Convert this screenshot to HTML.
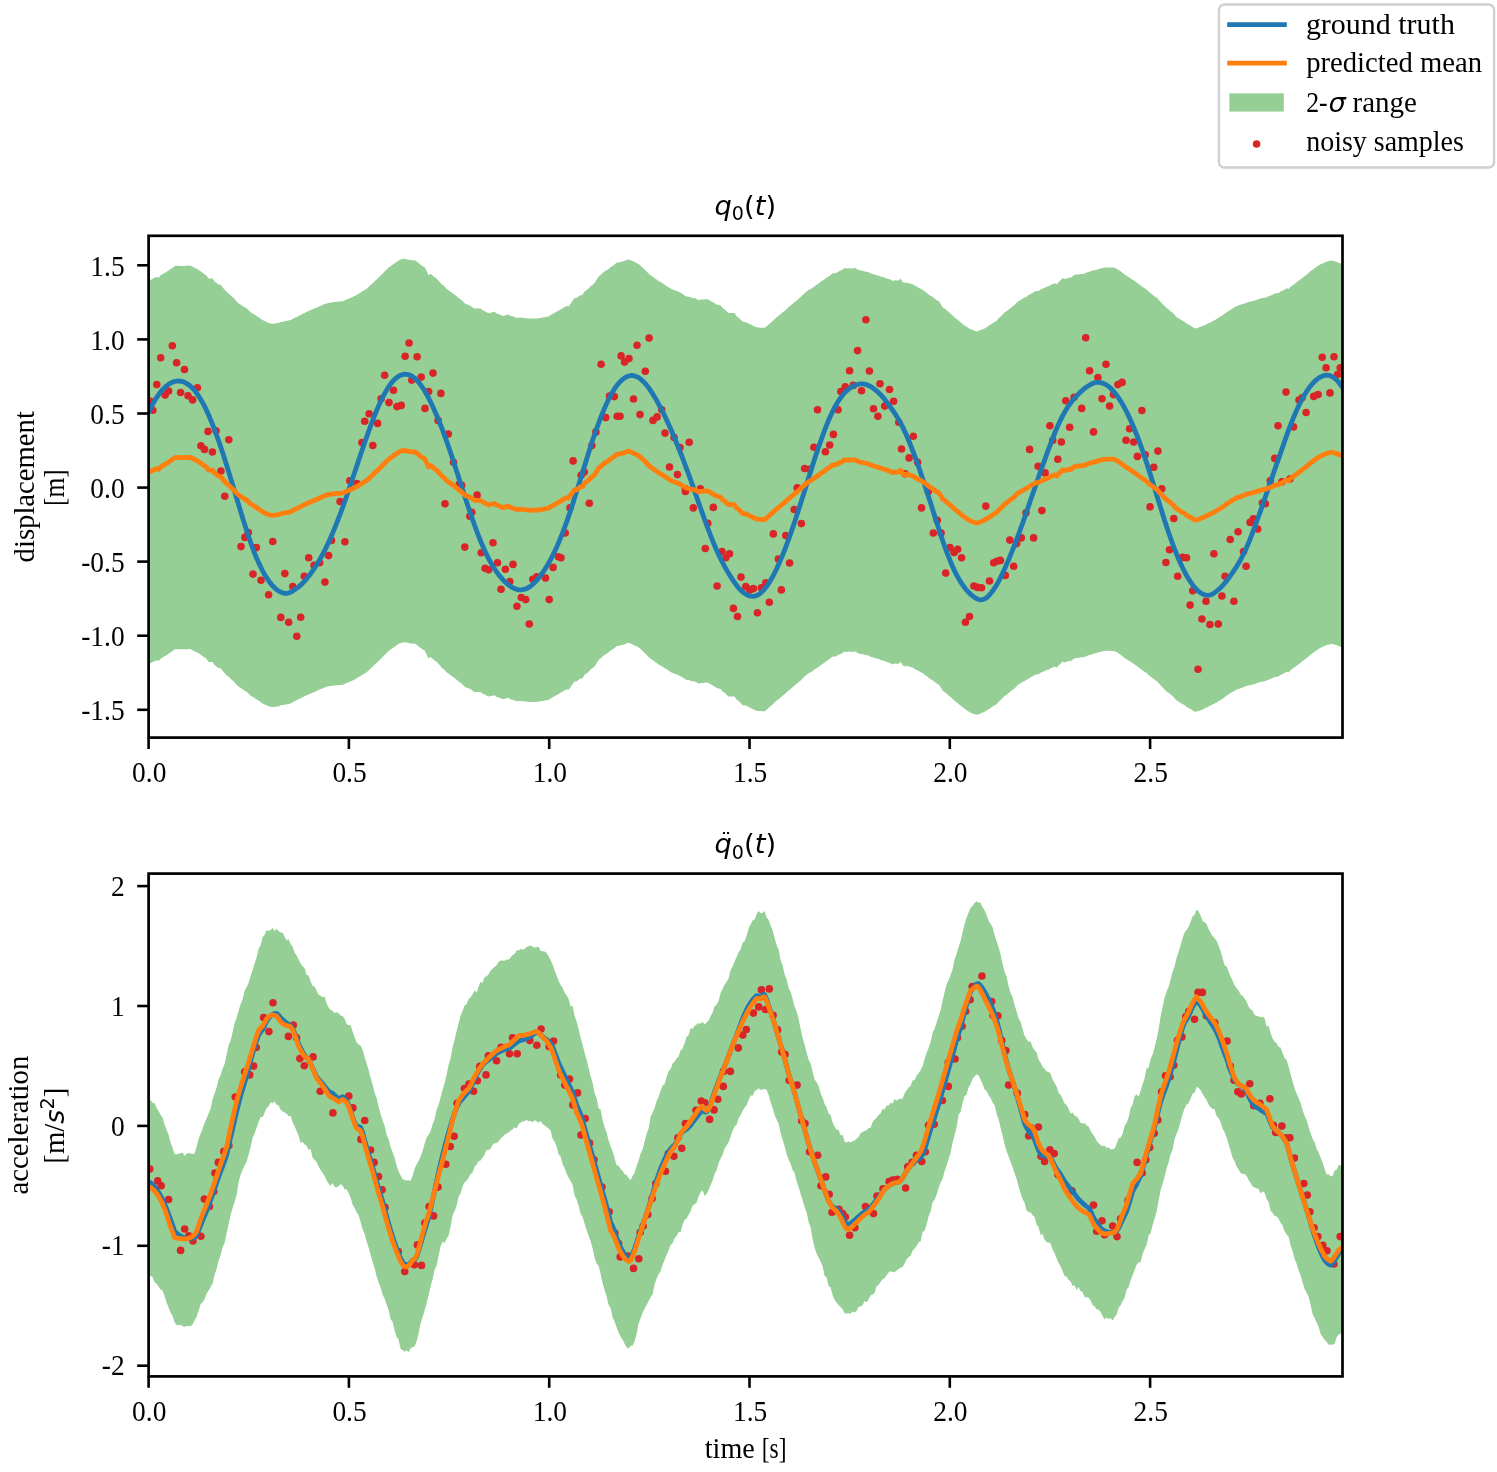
<!DOCTYPE html>
<html lang="en"><head><meta charset="utf-8"><title>q0(t) prediction</title>
<style>html,body{margin:0;padding:0;background:#fff}body{width:1497px;height:1472px;overflow:hidden}svg text{white-space:pre}</style>
</head><body>
<svg width="1497" height="1472" viewBox="0 0 1497 1472" style="display:block">
<rect width="1497" height="1472" fill="#fff"/>
<defs><clipPath id="c1"><rect x="148.6" y="235.8" width="1193.9" height="501.8"/></clipPath><clipPath id="c2"><rect x="148.6" y="873.6" width="1193.9" height="502.80000000000007"/></clipPath></defs>
<g clip-path="url(#c1)">
<path d="M148.6 279.9 L150.6 279.9 L152.6 278.7 L154.6 277.8 L156.6 276.9 L158.6 277.7 L160.6 275.3 L162.6 274.0 L164.6 272.9 L166.6 271.8 L168.6 270.4 L170.6 269.1 L172.6 267.7 L174.6 266.2 L176.6 265.7 L178.6 265.8 L180.6 265.9 L182.6 265.9 L184.6 265.9 L186.6 265.8 L188.6 265.6 L190.6 265.8 L192.6 266.8 L194.6 267.8 L196.6 268.8 L198.6 269.9 L200.6 271.2 L202.6 272.8 L204.6 274.2 L206.6 275.7 L208.6 278.5 L210.6 278.5 L212.6 278.5 L214.6 281.5 L216.6 283.0 L218.6 284.5 L220.6 284.8 L222.6 287.3 L224.6 289.7 L226.6 291.8 L228.6 293.4 L230.6 295.3 L232.6 297.2 L234.6 299.1 L236.6 301.4 L238.6 303.4 L240.6 304.4 L242.6 305.9 L244.6 307.3 L246.6 308.3 L248.6 310.3 L250.6 312.3 L252.6 313.4 L254.6 314.6 L256.6 316.0 L258.6 317.2 L260.6 318.7 L262.6 320.1 L264.6 321.1 L266.6 322.0 L268.6 322.9 L270.6 323.5 L272.6 323.7 L274.6 323.5 L276.6 323.2 L278.6 323.0 L280.6 321.9 L282.6 321.7 L284.6 321.3 L286.6 320.8 L288.6 320.6 L290.6 320.1 L292.6 318.9 L294.6 317.8 L296.6 316.9 L298.6 315.9 L300.6 314.9 L302.6 313.8 L304.6 312.9 L306.6 311.9 L308.6 311.0 L310.6 310.2 L312.6 309.3 L314.6 308.5 L316.6 307.7 L318.6 306.7 L320.6 305.7 L322.6 305.0 L324.6 304.1 L326.6 303.4 L328.6 302.9 L330.6 302.5 L332.6 302.3 L334.6 302.0 L336.6 301.8 L338.6 301.6 L340.6 301.6 L342.6 301.3 L344.6 300.6 L346.6 299.6 L348.6 298.8 L350.6 297.8 L352.6 297.0 L354.6 296.1 L356.6 294.9 L358.6 293.7 L360.6 292.6 L362.6 291.3 L364.6 290.1 L366.6 288.8 L368.6 287.1 L370.6 285.1 L372.6 283.3 L374.6 281.3 L376.6 279.4 L378.6 277.6 L380.6 275.5 L382.6 273.5 L384.6 271.6 L386.6 269.6 L388.6 267.6 L390.6 266.2 L392.6 264.8 L394.6 263.3 L396.6 261.9 L398.6 260.4 L400.6 259.5 L402.6 259.0 L404.6 258.8 L406.6 259.2 L408.6 259.7 L410.6 260.0 L412.6 260.3 L414.6 260.2 L416.6 261.4 L418.6 263.0 L420.6 264.7 L422.6 266.2 L424.6 267.1 L426.6 271.1 L428.6 275.2 L430.6 273.7 L432.6 275.4 L434.6 277.2 L436.6 278.4 L438.6 280.7 L440.6 282.9 L442.6 285.0 L444.6 286.6 L446.6 288.9 L448.6 290.3 L450.6 291.8 L452.6 293.3 L454.6 294.5 L456.6 296.3 L458.6 298.0 L460.6 299.4 L462.6 301.1 L464.6 303.3 L466.6 304.3 L468.6 304.9 L470.6 305.9 L472.6 307.4 L474.6 308.6 L476.6 308.6 L478.6 308.6 L480.6 308.6 L482.6 310.3 L484.6 311.0 L486.6 312.2 L488.6 313.2 L490.6 312.7 L492.6 312.3 L494.6 311.8 L496.6 313.5 L498.6 314.0 L500.6 314.9 L502.6 315.9 L504.6 315.4 L506.6 314.9 L508.6 314.4 L510.6 316.0 L512.6 316.3 L514.6 317.0 L516.6 317.9 L518.6 317.7 L520.6 317.5 L522.6 317.8 L524.6 318.0 L526.6 318.2 L528.6 318.5 L530.6 318.6 L532.6 318.5 L534.6 318.5 L536.6 318.4 L538.6 318.3 L540.6 317.9 L542.6 317.6 L544.6 317.2 L546.6 316.8 L548.6 316.4 L550.6 315.0 L552.6 313.9 L554.6 312.8 L556.6 311.7 L558.6 310.6 L560.6 309.4 L562.6 308.2 L564.6 307.0 L566.6 306.0 L568.6 306.4 L570.6 303.5 L572.6 300.7 L574.6 298.1 L576.6 298.1 L578.6 296.4 L580.6 295.2 L582.6 294.8 L584.6 291.4 L586.6 290.0 L588.6 288.4 L590.6 286.2 L592.6 284.7 L594.6 283.0 L596.6 279.8 L598.6 276.5 L600.6 274.9 L602.6 273.1 L604.6 271.3 L606.6 270.3 L608.6 268.9 L610.6 267.1 L612.6 265.9 L614.6 264.5 L616.6 262.6 L618.6 262.5 L620.6 261.9 L622.6 261.4 L624.6 260.8 L626.6 260.1 L628.6 259.4 L630.6 260.2 L632.6 261.1 L634.6 262.0 L636.6 262.9 L638.6 264.0 L640.6 265.7 L642.6 267.5 L644.6 269.4 L646.6 271.5 L648.6 273.6 L650.6 275.4 L652.6 276.6 L654.6 278.2 L656.6 279.6 L658.6 281.1 L660.6 282.1 L662.6 283.3 L664.6 284.7 L666.6 285.9 L668.6 287.2 L670.6 288.6 L672.6 289.6 L674.6 290.3 L676.6 291.1 L678.6 291.8 L680.6 292.8 L682.6 294.0 L684.6 295.4 L686.6 296.5 L688.6 296.7 L690.6 297.3 L692.6 297.9 L694.6 298.0 L696.6 298.9 L698.6 300.3 L700.6 299.6 L702.6 299.5 L704.6 299.3 L706.6 299.2 L708.6 299.6 L710.6 300.9 L712.6 302.1 L714.6 303.2 L716.6 304.5 L718.6 305.0 L720.6 305.5 L722.6 308.0 L724.6 309.3 L726.6 311.3 L728.6 313.0 L730.6 313.0 L732.6 313.0 L734.6 313.0 L736.6 316.3 L738.6 317.7 L740.6 319.7 L742.6 321.8 L744.6 321.9 L746.6 322.4 L748.6 323.6 L750.6 324.6 L752.6 325.5 L754.6 326.6 L756.6 327.3 L758.6 327.5 L760.6 327.7 L762.6 327.8 L764.6 327.8 L766.6 326.3 L768.6 324.5 L770.6 322.7 L772.6 321.0 L774.6 319.2 L776.6 317.2 L778.6 315.8 L780.6 314.1 L782.6 312.3 L784.6 310.9 L786.6 308.9 L788.6 307.1 L790.6 305.5 L792.6 303.8 L794.6 302.1 L796.6 300.4 L798.6 298.8 L800.6 297.0 L802.6 295.0 L804.6 293.2 L806.6 291.4 L808.6 289.9 L810.6 288.9 L812.6 287.8 L814.6 286.2 L816.6 284.8 L818.6 283.5 L820.6 281.8 L822.6 280.5 L824.6 279.2 L826.6 277.5 L828.6 276.4 L830.6 274.9 L832.6 273.2 L834.6 273.3 L836.6 272.7 L838.6 271.4 L840.6 270.6 L842.6 269.6 L844.6 268.0 L846.6 268.5 L848.6 268.2 L850.6 268.4 L852.6 268.5 L854.6 267.8 L856.6 268.9 L858.6 270.1 L860.6 270.5 L862.6 270.8 L864.6 271.4 L866.6 271.8 L868.6 272.2 L870.6 273.3 L872.6 273.9 L874.6 274.6 L876.6 275.2 L878.6 275.6 L880.6 276.5 L882.6 277.0 L884.6 277.6 L886.6 278.5 L888.6 279.0 L890.6 279.8 L892.6 281.1 L894.6 280.2 L896.6 280.4 L898.6 280.4 L900.6 278.5 L902.6 281.9 L904.6 283.1 L906.6 282.4 L908.6 283.2 L910.6 283.5 L912.6 284.2 L914.6 285.5 L916.6 286.6 L918.6 287.7 L920.6 288.8 L922.6 289.7 L924.6 291.3 L926.6 292.7 L928.6 294.4 L930.6 295.9 L932.6 296.8 L934.6 298.4 L936.6 300.2 L938.6 301.1 L940.6 303.7 L942.6 307.3 L944.6 308.6 L946.6 310.2 L948.6 312.1 L950.6 313.7 L952.6 315.5 L954.6 317.4 L956.6 318.9 L958.6 320.6 L960.6 322.3 L962.6 323.9 L964.6 325.4 L966.6 326.8 L968.6 328.2 L970.6 329.3 L972.6 330.1 L974.6 330.8 L976.6 331.4 L978.6 330.8 L980.6 330.1 L982.6 329.2 L984.6 328.4 L986.6 327.2 L988.6 325.8 L990.6 324.6 L992.6 323.2 L994.6 321.9 L996.6 320.9 L998.6 318.3 L1000.6 316.5 L1002.6 314.7 L1004.6 312.3 L1006.6 311.3 L1008.6 309.5 L1010.6 307.9 L1012.6 306.3 L1014.6 305.0 L1016.6 302.8 L1018.6 300.9 L1020.6 299.9 L1022.6 298.6 L1024.6 297.6 L1026.6 296.7 L1028.6 295.1 L1030.6 294.0 L1032.6 292.9 L1034.6 291.5 L1036.6 290.9 L1038.6 290.9 L1040.6 289.4 L1042.6 288.5 L1044.6 287.7 L1046.6 286.7 L1048.6 286.3 L1050.6 284.9 L1052.6 284.1 L1054.6 283.2 L1056.6 284.3 L1058.6 282.2 L1060.6 280.2 L1062.6 278.1 L1064.6 279.0 L1066.6 278.4 L1068.6 277.7 L1070.6 277.8 L1072.6 276.3 L1074.6 274.8 L1076.6 274.5 L1078.6 274.5 L1080.6 273.9 L1082.6 273.9 L1084.6 273.6 L1086.6 272.5 L1088.6 271.9 L1090.6 271.3 L1092.6 270.6 L1094.6 270.2 L1096.6 269.7 L1098.6 268.9 L1100.6 268.4 L1102.6 267.9 L1104.6 267.6 L1106.6 267.4 L1108.6 267.4 L1110.6 267.4 L1112.6 267.5 L1114.6 267.8 L1116.6 268.7 L1118.6 270.0 L1120.6 271.3 L1122.6 272.8 L1124.6 274.5 L1126.6 275.8 L1128.6 277.1 L1130.6 278.4 L1132.6 279.7 L1134.6 281.0 L1136.6 282.4 L1138.6 284.0 L1140.6 285.4 L1142.6 287.0 L1144.6 288.3 L1146.6 289.6 L1148.6 291.6 L1150.6 293.3 L1152.6 294.7 L1154.6 296.4 L1156.6 297.5 L1158.6 299.7 L1160.6 301.9 L1162.6 304.0 L1164.6 306.1 L1166.6 308.1 L1168.6 309.4 L1170.6 311.2 L1172.6 312.7 L1174.6 314.8 L1176.6 317.2 L1178.6 318.2 L1180.6 319.5 L1182.6 320.8 L1184.6 321.7 L1186.6 323.7 L1188.6 324.6 L1190.6 325.7 L1192.6 326.9 L1194.6 328.3 L1196.6 328.2 L1198.6 327.6 L1200.6 326.8 L1202.6 326.1 L1204.6 325.2 L1206.6 324.2 L1208.6 323.2 L1210.6 322.2 L1212.6 321.2 L1214.6 320.2 L1216.6 319.0 L1218.6 317.8 L1220.6 316.6 L1222.6 315.3 L1224.6 313.8 L1226.6 312.2 L1228.6 311.1 L1230.6 309.7 L1232.6 308.4 L1234.6 307.3 L1236.6 306.0 L1238.6 305.6 L1240.6 304.8 L1242.6 304.0 L1244.6 303.4 L1246.6 302.4 L1248.6 302.0 L1250.6 301.6 L1252.6 301.0 L1254.6 300.5 L1256.6 299.9 L1258.6 299.1 L1260.6 298.6 L1262.6 298.0 L1264.6 297.8 L1266.6 297.2 L1268.6 296.3 L1270.6 295.6 L1272.6 294.7 L1274.6 293.5 L1276.6 293.3 L1278.6 293.1 L1280.6 291.5 L1282.6 290.7 L1284.6 289.6 L1286.6 288.3 L1288.6 289.0 L1290.6 286.8 L1292.6 285.2 L1294.6 283.9 L1296.6 282.3 L1298.6 280.8 L1300.6 279.3 L1302.6 277.7 L1304.6 276.2 L1306.6 274.7 L1308.6 273.1 L1310.6 271.1 L1312.6 269.8 L1314.6 268.3 L1316.6 266.8 L1318.6 265.5 L1320.6 264.3 L1322.6 263.4 L1324.6 262.5 L1326.6 261.7 L1328.6 261.1 L1330.6 260.8 L1332.6 260.5 L1334.6 261.3 L1336.6 261.9 L1338.6 262.7 L1342.5 264.0 L1342.5 647.4 L1338.6 646.1 L1336.6 645.3 L1334.6 644.7 L1332.6 643.9 L1330.6 644.2 L1328.6 644.5 L1326.6 645.1 L1324.6 645.9 L1322.6 646.8 L1320.6 647.7 L1318.6 648.9 L1316.6 650.2 L1314.6 651.7 L1312.6 653.2 L1310.6 654.5 L1308.6 656.5 L1306.6 658.1 L1304.6 659.6 L1302.6 661.1 L1300.6 662.7 L1298.6 664.2 L1296.6 665.7 L1294.6 667.3 L1292.6 668.6 L1290.6 670.2 L1288.6 672.4 L1286.6 671.7 L1284.6 673.0 L1282.6 674.1 L1280.6 674.9 L1278.6 676.5 L1276.6 676.7 L1274.6 676.9 L1272.6 678.1 L1270.6 679.0 L1268.6 679.7 L1266.6 680.6 L1264.6 681.2 L1262.6 681.4 L1260.6 682.0 L1258.6 682.5 L1256.6 683.3 L1254.6 683.9 L1252.6 684.4 L1250.6 685.0 L1248.6 685.4 L1246.6 685.8 L1244.6 686.8 L1242.6 687.4 L1240.6 688.2 L1238.6 689.0 L1236.6 689.4 L1234.6 690.7 L1232.6 691.8 L1230.6 693.1 L1228.6 694.5 L1226.6 695.6 L1224.6 697.2 L1222.6 698.7 L1220.6 700.0 L1218.6 701.2 L1216.6 702.4 L1214.6 703.6 L1212.6 704.6 L1210.6 705.6 L1208.6 706.6 L1206.6 707.6 L1204.6 708.6 L1202.6 709.5 L1200.6 710.2 L1198.6 711.0 L1196.6 711.6 L1194.6 711.7 L1192.6 710.3 L1190.6 709.1 L1188.6 708.0 L1186.6 707.1 L1184.6 705.1 L1182.6 704.2 L1180.6 702.9 L1178.6 701.6 L1176.6 700.6 L1174.6 698.2 L1172.6 696.1 L1170.6 694.6 L1168.6 692.8 L1166.6 691.5 L1164.6 689.5 L1162.6 687.4 L1160.6 685.3 L1158.6 683.1 L1156.6 680.9 L1154.6 679.8 L1152.6 678.1 L1150.6 676.7 L1148.6 675.0 L1146.6 673.0 L1144.6 671.7 L1142.6 670.4 L1140.6 668.8 L1138.6 667.4 L1136.6 665.8 L1134.6 664.4 L1132.6 663.1 L1130.6 661.8 L1128.6 660.5 L1126.6 659.2 L1124.6 657.9 L1122.6 656.2 L1120.6 654.7 L1118.6 653.4 L1116.6 652.1 L1114.6 651.2 L1112.6 650.9 L1110.6 650.8 L1108.6 650.8 L1106.6 650.8 L1104.6 651.0 L1102.6 651.3 L1100.6 651.8 L1098.6 652.3 L1096.6 653.1 L1094.6 653.6 L1092.6 654.0 L1090.6 654.7 L1088.6 655.3 L1086.6 655.9 L1084.6 657.0 L1082.6 657.3 L1080.6 657.3 L1078.6 657.9 L1076.6 657.9 L1074.6 658.2 L1072.6 659.7 L1070.6 661.2 L1068.6 661.1 L1066.6 661.8 L1064.6 662.4 L1062.6 661.5 L1060.6 663.6 L1058.6 665.6 L1056.6 667.7 L1054.6 666.6 L1052.6 667.5 L1050.6 668.3 L1048.6 669.7 L1046.6 670.1 L1044.6 671.1 L1042.6 671.9 L1040.6 672.8 L1038.6 674.3 L1036.6 674.3 L1034.6 674.9 L1032.6 676.3 L1030.6 677.4 L1028.6 678.5 L1026.6 680.1 L1024.6 681.0 L1022.6 682.0 L1020.6 683.3 L1018.6 684.3 L1016.6 686.2 L1014.6 688.4 L1012.6 689.7 L1010.6 691.3 L1008.6 692.9 L1006.6 694.7 L1004.6 695.7 L1002.6 698.1 L1000.6 699.9 L998.6 701.7 L996.6 704.3 L994.6 705.3 L992.6 706.6 L990.6 708.0 L988.6 709.2 L986.6 710.6 L984.6 711.8 L982.6 712.6 L980.6 713.5 L978.6 714.2 L976.6 714.8 L974.6 714.2 L972.6 713.5 L970.6 712.7 L968.6 711.6 L966.6 710.2 L964.6 708.8 L962.6 707.3 L960.6 705.7 L958.6 704.0 L956.6 702.3 L954.6 700.8 L952.6 698.9 L950.6 697.1 L948.6 695.5 L946.6 693.6 L944.6 692.0 L942.6 690.7 L940.6 687.1 L938.6 684.5 L936.6 683.6 L934.6 681.8 L932.6 680.2 L930.6 679.3 L928.6 677.8 L926.6 676.1 L924.6 674.7 L922.6 673.1 L920.6 672.2 L918.6 671.1 L916.6 670.0 L914.6 668.9 L912.6 667.6 L910.6 666.9 L908.6 666.6 L906.6 665.8 L904.6 666.5 L902.6 665.3 L900.6 661.9 L898.6 663.8 L896.6 663.8 L894.6 663.6 L892.6 664.5 L890.6 663.2 L888.6 662.4 L886.6 661.9 L884.6 661.0 L882.6 660.4 L880.6 659.9 L878.6 659.0 L876.6 658.6 L874.6 658.0 L872.6 657.3 L870.6 656.7 L868.6 655.6 L866.6 655.2 L864.6 654.8 L862.6 654.2 L860.6 653.9 L858.6 653.5 L856.6 652.3 L854.6 651.2 L852.6 651.9 L850.6 651.8 L848.6 651.6 L846.6 651.9 L844.6 651.4 L842.6 653.0 L840.6 654.0 L838.6 654.8 L836.6 656.1 L834.6 656.7 L832.6 656.6 L830.6 658.3 L828.6 659.8 L826.6 660.9 L824.6 662.6 L822.6 663.9 L820.6 665.2 L818.6 666.9 L816.6 668.2 L814.6 669.6 L812.6 671.2 L810.6 672.3 L808.6 673.3 L806.6 674.8 L804.6 676.6 L802.6 678.4 L800.6 680.4 L798.6 682.2 L796.6 683.8 L794.6 685.5 L792.6 687.2 L790.6 688.9 L788.6 690.5 L786.6 692.3 L784.6 694.3 L782.6 695.7 L780.6 697.5 L778.6 699.2 L776.6 700.6 L774.6 702.6 L772.6 704.4 L770.6 706.1 L768.6 707.9 L766.6 709.7 L764.6 711.2 L762.6 711.2 L760.6 711.1 L758.6 710.9 L756.6 710.7 L754.6 710.0 L752.6 708.9 L750.6 708.0 L748.6 707.0 L746.6 705.8 L744.6 705.3 L742.6 705.2 L740.6 703.1 L738.6 701.1 L736.6 699.7 L734.6 696.4 L732.6 696.4 L730.6 696.4 L728.6 696.4 L726.6 694.7 L724.6 692.7 L722.6 691.4 L720.6 688.9 L718.6 688.4 L716.6 687.9 L714.6 686.6 L712.6 685.5 L710.6 684.3 L708.6 683.0 L706.6 682.6 L704.6 682.7 L702.6 682.9 L700.6 683.0 L698.6 683.7 L696.6 682.3 L694.6 681.4 L692.6 681.3 L690.6 680.7 L688.6 680.1 L686.6 679.9 L684.6 678.8 L682.6 677.4 L680.6 676.2 L678.6 675.2 L676.6 674.5 L674.6 673.7 L672.6 673.0 L670.6 672.0 L668.6 670.6 L666.6 669.3 L664.6 668.1 L662.6 666.7 L660.6 665.5 L658.6 664.5 L656.6 663.0 L654.6 661.6 L652.6 660.0 L650.6 658.8 L648.6 657.0 L646.6 654.9 L644.6 652.8 L642.6 650.9 L640.6 649.1 L638.6 647.4 L636.6 646.3 L634.6 645.4 L632.6 644.5 L630.6 643.6 L628.6 642.8 L626.6 643.5 L624.6 644.2 L622.6 644.8 L620.6 645.3 L618.6 645.9 L616.6 646.0 L614.6 647.9 L612.6 649.3 L610.6 650.5 L608.6 652.3 L606.6 653.7 L604.6 654.7 L602.6 656.5 L600.6 658.3 L598.6 659.9 L596.6 663.2 L594.6 666.4 L592.6 668.1 L590.6 669.6 L588.6 671.8 L586.6 673.4 L584.6 674.8 L582.6 678.2 L580.6 678.6 L578.6 679.8 L576.6 681.5 L574.6 681.5 L572.6 684.1 L570.6 686.9 L568.6 689.8 L566.6 689.4 L564.6 690.4 L562.6 691.6 L560.6 692.8 L558.6 694.0 L556.6 695.1 L554.6 696.2 L552.6 697.3 L550.6 698.4 L548.6 699.8 L546.6 700.2 L544.6 700.6 L542.6 701.0 L540.6 701.3 L538.6 701.7 L536.6 701.8 L534.6 701.9 L532.6 701.9 L530.6 702.0 L528.6 701.9 L526.6 701.6 L524.6 701.4 L522.6 701.2 L520.6 700.9 L518.6 701.1 L516.6 701.3 L514.6 700.4 L512.6 699.7 L510.6 699.4 L508.6 697.8 L506.6 698.3 L504.6 698.8 L502.6 699.3 L500.6 698.3 L498.6 697.4 L496.6 696.9 L494.6 695.2 L492.6 695.7 L490.6 696.1 L488.6 696.6 L486.6 695.6 L484.6 694.4 L482.6 693.7 L480.6 692.0 L478.6 692.0 L476.6 692.0 L474.6 692.0 L472.6 690.8 L470.6 689.3 L468.6 688.3 L466.6 687.7 L464.6 686.7 L462.6 684.5 L460.6 682.8 L458.6 681.4 L456.6 679.7 L454.6 677.9 L452.6 676.7 L450.6 675.2 L448.6 673.7 L446.6 672.3 L444.6 670.0 L442.6 668.4 L440.6 666.3 L438.6 664.1 L436.6 661.8 L434.6 660.6 L432.6 658.8 L430.6 657.1 L428.6 658.6 L426.6 654.5 L424.6 650.5 L422.6 649.6 L420.6 648.1 L418.6 646.4 L416.6 644.8 L414.6 643.6 L412.6 643.7 L410.6 643.4 L408.6 643.1 L406.6 642.6 L404.6 642.2 L402.6 642.4 L400.6 642.9 L398.6 643.8 L396.6 645.3 L394.6 646.7 L392.6 648.2 L390.6 649.6 L388.6 651.0 L386.6 653.0 L384.6 655.0 L382.6 656.9 L380.6 658.9 L378.6 661.0 L376.6 662.8 L374.6 664.7 L372.6 666.7 L370.6 668.5 L368.6 670.5 L366.6 672.2 L364.6 673.5 L362.6 674.7 L360.6 676.0 L358.6 677.1 L356.6 678.3 L354.6 679.5 L352.6 680.4 L350.6 681.2 L348.6 682.2 L346.6 683.0 L344.6 684.0 L342.6 684.7 L340.6 685.0 L338.6 685.0 L336.6 685.2 L334.6 685.4 L332.6 685.7 L330.6 685.9 L328.6 686.3 L326.6 686.8 L324.6 687.5 L322.6 688.4 L320.6 689.1 L318.6 690.1 L316.6 691.1 L314.6 691.9 L312.6 692.7 L310.6 693.6 L308.6 694.4 L306.6 695.3 L304.6 696.3 L302.6 697.2 L300.6 698.3 L298.6 699.3 L296.6 700.3 L294.6 701.2 L292.6 702.3 L290.6 703.5 L288.6 704.0 L286.6 704.2 L284.6 704.7 L282.6 705.1 L280.6 705.3 L278.6 706.4 L276.6 706.6 L274.6 706.9 L272.6 707.1 L270.6 706.9 L268.6 706.3 L266.6 705.4 L264.6 704.5 L262.6 703.5 L260.6 702.1 L258.6 700.6 L256.6 699.4 L254.6 698.0 L252.6 696.8 L250.6 695.7 L248.6 693.7 L246.6 691.7 L244.6 690.7 L242.6 689.3 L240.6 687.8 L238.6 686.8 L236.6 684.8 L234.6 682.5 L232.6 680.6 L230.6 678.7 L228.6 676.8 L226.6 675.2 L224.6 673.1 L222.6 670.7 L220.6 668.2 L218.6 667.9 L216.6 666.4 L214.6 664.9 L212.6 661.9 L210.6 661.9 L208.6 661.9 L206.6 659.1 L204.6 657.6 L202.6 656.2 L200.6 654.6 L198.6 653.3 L196.6 652.2 L194.6 651.2 L192.6 650.2 L190.6 649.2 L188.6 649.0 L186.6 649.2 L184.6 649.3 L182.6 649.3 L180.6 649.3 L178.6 649.2 L176.6 649.1 L174.6 649.6 L172.6 651.1 L170.6 652.5 L168.6 653.8 L166.6 655.2 L164.6 656.3 L162.6 657.4 L160.6 658.7 L158.6 661.1 L156.6 660.3 L154.6 661.2 L152.6 662.1 L150.6 663.3 L148.6 663.3 Z" fill="#95cf95"/>
<g fill="#d92528"><circle cx="172.3" cy="345.7" r="3.8"/><circle cx="160.7" cy="357.7" r="3.8"/><circle cx="176.6" cy="362.8" r="3.8"/><circle cx="184.5" cy="369.5" r="3.8"/><circle cx="156.8" cy="384.6" r="3.8"/><circle cx="168.6" cy="391.1" r="3.8"/><circle cx="165.1" cy="395.1" r="3.8"/><circle cx="180.6" cy="392.5" r="3.8"/><circle cx="188.0" cy="395.7" r="3.8"/><circle cx="192.6" cy="399.9" r="3.8"/><circle cx="197.4" cy="387.7" r="3.8"/><circle cx="150.5" cy="401.3" r="3.8"/><circle cx="152.8" cy="410.2" r="3.8"/><circle cx="208.0" cy="431.4" r="3.8"/><circle cx="216.1" cy="430.8" r="3.8"/><circle cx="228.8" cy="439.8" r="3.8"/><circle cx="200.9" cy="445.8" r="3.8"/><circle cx="204.5" cy="449.4" r="3.8"/><circle cx="212.4" cy="452.0" r="3.8"/><circle cx="220.9" cy="471.1" r="3.8"/><circle cx="384.6" cy="375.2" r="3.8"/><circle cx="393.5" cy="390.2" r="3.8"/><circle cx="381.1" cy="398.7" r="3.8"/><circle cx="389.0" cy="402.6" r="3.8"/><circle cx="397.0" cy="406.6" r="3.8"/><circle cx="369.1" cy="413.7" r="3.8"/><circle cx="364.7" cy="421.3" r="3.8"/><circle cx="377.6" cy="423.4" r="3.8"/><circle cx="361.9" cy="442.5" r="3.8"/><circle cx="372.8" cy="445.5" r="3.8"/><circle cx="349.8" cy="480.8" r="3.8"/><circle cx="356.8" cy="483.5" r="3.8"/><circle cx="224.8" cy="496.2" r="3.8"/><circle cx="340.1" cy="501.5" r="3.8"/><circle cx="248.3" cy="532.6" r="3.8"/><circle cx="244.9" cy="537.4" r="3.8"/><circle cx="241.0" cy="546.6" r="3.8"/><circle cx="256.4" cy="547.6" r="3.8"/><circle cx="272.8" cy="541.5" r="3.8"/><circle cx="331.5" cy="540.4" r="3.8"/><circle cx="344.9" cy="541.8" r="3.8"/><circle cx="328.6" cy="555.6" r="3.8"/><circle cx="308.7" cy="557.7" r="3.8"/><circle cx="319.6" cy="562.7" r="3.8"/><circle cx="314.0" cy="565.3" r="3.8"/><circle cx="253.0" cy="574.1" r="3.8"/><circle cx="284.8" cy="573.6" r="3.8"/><circle cx="304.3" cy="576.3" r="3.8"/><circle cx="261.0" cy="580.3" r="3.8"/><circle cx="324.9" cy="582.1" r="3.8"/><circle cx="292.8" cy="586.5" r="3.8"/><circle cx="268.6" cy="594.8" r="3.8"/><circle cx="280.8" cy="617.4" r="3.8"/><circle cx="288.7" cy="622.2" r="3.8"/><circle cx="300.7" cy="617.2" r="3.8"/><circle cx="296.8" cy="636.3" r="3.8"/><circle cx="409.1" cy="343.0" r="3.8"/><circle cx="405.1" cy="356.3" r="3.8"/><circle cx="417.1" cy="356.8" r="3.8"/><circle cx="433.0" cy="373.1" r="3.8"/><circle cx="421.2" cy="377.1" r="3.8"/><circle cx="411.8" cy="380.1" r="3.8"/><circle cx="428.6" cy="391.6" r="3.8"/><circle cx="440.9" cy="393.4" r="3.8"/><circle cx="401.2" cy="405.4" r="3.8"/><circle cx="425.0" cy="408.4" r="3.8"/><circle cx="438.1" cy="420.4" r="3.8"/><circle cx="448.3" cy="434.0" r="3.8"/><circle cx="453.5" cy="462.3" r="3.8"/><circle cx="459.2" cy="484.3" r="3.8"/><circle cx="461.7" cy="485.2" r="3.8"/><circle cx="637.0" cy="345.2" r="3.8"/><circle cx="621.1" cy="355.9" r="3.8"/><circle cx="629.0" cy="358.6" r="3.8"/><circle cx="624.6" cy="362.1" r="3.8"/><circle cx="601.1" cy="364.2" r="3.8"/><circle cx="609.5" cy="396.0" r="3.8"/><circle cx="614.3" cy="396.6" r="3.8"/><circle cx="633.5" cy="399.0" r="3.8"/><circle cx="640.0" cy="414.6" r="3.8"/><circle cx="617.2" cy="416.3" r="3.8"/><circle cx="605.7" cy="417.6" r="3.8"/><circle cx="595.9" cy="431.9" r="3.8"/><circle cx="591.9" cy="445.5" r="3.8"/><circle cx="573.1" cy="460.9" r="3.8"/><circle cx="581.1" cy="475.2" r="3.8"/><circle cx="584.3" cy="472.0" r="3.8"/><circle cx="445.0" cy="503.8" r="3.8"/><circle cx="477.1" cy="495.0" r="3.8"/><circle cx="471.8" cy="512.3" r="3.8"/><circle cx="469.8" cy="516.2" r="3.8"/><circle cx="589.3" cy="503.3" r="3.8"/><circle cx="570.0" cy="507.7" r="3.8"/><circle cx="565.2" cy="533.0" r="3.8"/><circle cx="493.0" cy="542.7" r="3.8"/><circle cx="464.8" cy="547.1" r="3.8"/><circle cx="481.2" cy="552.8" r="3.8"/><circle cx="561.0" cy="557.7" r="3.8"/><circle cx="558.4" cy="556.8" r="3.8"/><circle cx="497.5" cy="562.7" r="3.8"/><circle cx="513.0" cy="564.4" r="3.8"/><circle cx="505.4" cy="569.2" r="3.8"/><circle cx="485.1" cy="568.3" r="3.8"/><circle cx="488.6" cy="569.7" r="3.8"/><circle cx="553.1" cy="567.4" r="3.8"/><circle cx="536.8" cy="576.8" r="3.8"/><circle cx="532.8" cy="579.3" r="3.8"/><circle cx="545.5" cy="578.0" r="3.8"/><circle cx="509.8" cy="581.6" r="3.8"/><circle cx="501.0" cy="589.2" r="3.8"/><circle cx="521.3" cy="597.5" r="3.8"/><circle cx="525.7" cy="599.6" r="3.8"/><circle cx="549.2" cy="599.6" r="3.8"/><circle cx="516.9" cy="606.3" r="3.8"/><circle cx="529.3" cy="624.0" r="3.8"/><circle cx="649.1" cy="338.1" r="3.8"/><circle cx="645.3" cy="371.3" r="3.8"/><circle cx="661.7" cy="409.8" r="3.8"/><circle cx="657.1" cy="416.9" r="3.8"/><circle cx="653.0" cy="420.4" r="3.8"/><circle cx="620.0" cy="416.3" r="3.8"/><circle cx="665.0" cy="433.1" r="3.8"/><circle cx="674.1" cy="437.5" r="3.8"/><circle cx="689.2" cy="442.3" r="3.8"/><circle cx="680.0" cy="447.6" r="3.8"/><circle cx="669.5" cy="467.0" r="3.8"/><circle cx="677.4" cy="474.6" r="3.8"/><circle cx="685.4" cy="488.8" r="3.8"/><circle cx="700.4" cy="488.8" r="3.8"/><circle cx="865.9" cy="319.7" r="3.8"/><circle cx="857.6" cy="350.6" r="3.8"/><circle cx="849.6" cy="370.8" r="3.8"/><circle cx="869.4" cy="371.0" r="3.8"/><circle cx="845.2" cy="386.8" r="3.8"/><circle cx="840.8" cy="391.6" r="3.8"/><circle cx="853.2" cy="385.4" r="3.8"/><circle cx="861.5" cy="390.7" r="3.8"/><circle cx="880.0" cy="383.7" r="3.8"/><circle cx="817.5" cy="409.8" r="3.8"/><circle cx="838.0" cy="409.8" r="3.8"/><circle cx="873.5" cy="408.8" r="3.8"/><circle cx="877.9" cy="416.3" r="3.8"/><circle cx="833.4" cy="434.4" r="3.8"/><circle cx="829.7" cy="445.0" r="3.8"/><circle cx="813.9" cy="447.3" r="3.8"/><circle cx="825.4" cy="451.7" r="3.8"/><circle cx="804.6" cy="468.5" r="3.8"/><circle cx="809.6" cy="469.3" r="3.8"/><circle cx="797.2" cy="487.9" r="3.8"/><circle cx="685.4" cy="491.5" r="3.8"/><circle cx="693.3" cy="507.9" r="3.8"/><circle cx="713.3" cy="507.4" r="3.8"/><circle cx="794.2" cy="509.5" r="3.8"/><circle cx="707.8" cy="523.3" r="3.8"/><circle cx="801.4" cy="523.6" r="3.8"/><circle cx="773.3" cy="533.9" r="3.8"/><circle cx="785.8" cy="535.6" r="3.8"/><circle cx="705.3" cy="548.5" r="3.8"/><circle cx="722.0" cy="551.5" r="3.8"/><circle cx="729.5" cy="553.7" r="3.8"/><circle cx="725.8" cy="557.7" r="3.8"/><circle cx="778.4" cy="559.1" r="3.8"/><circle cx="789.6" cy="563.0" r="3.8"/><circle cx="741.0" cy="577.1" r="3.8"/><circle cx="765.8" cy="582.8" r="3.8"/><circle cx="717.1" cy="586.0" r="3.8"/><circle cx="745.8" cy="586.5" r="3.8"/><circle cx="753.4" cy="588.6" r="3.8"/><circle cx="761.3" cy="587.7" r="3.8"/><circle cx="749.8" cy="589.9" r="3.8"/><circle cx="781.3" cy="589.9" r="3.8"/><circle cx="769.3" cy="602.2" r="3.8"/><circle cx="733.4" cy="608.4" r="3.8"/><circle cx="757.4" cy="612.8" r="3.8"/><circle cx="737.5" cy="616.5" r="3.8"/><circle cx="889.5" cy="389.5" r="3.8"/><circle cx="893.6" cy="401.3" r="3.8"/><circle cx="884.7" cy="406.1" r="3.8"/><circle cx="898.8" cy="422.2" r="3.8"/><circle cx="913.3" cy="436.3" r="3.8"/><circle cx="901.5" cy="449.0" r="3.8"/><circle cx="909.1" cy="457.9" r="3.8"/><circle cx="917.6" cy="462.3" r="3.8"/><circle cx="905.0" cy="473.8" r="3.8"/><circle cx="1085.7" cy="337.7" r="3.8"/><circle cx="1106.0" cy="364.2" r="3.8"/><circle cx="1089.6" cy="370.8" r="3.8"/><circle cx="1097.9" cy="377.5" r="3.8"/><circle cx="1117.9" cy="384.6" r="3.8"/><circle cx="1113.5" cy="394.6" r="3.8"/><circle cx="1065.8" cy="400.8" r="3.8"/><circle cx="1074.1" cy="397.3" r="3.8"/><circle cx="1102.0" cy="398.7" r="3.8"/><circle cx="1109.6" cy="406.1" r="3.8"/><circle cx="1081.7" cy="408.4" r="3.8"/><circle cx="1049.9" cy="425.7" r="3.8"/><circle cx="1069.7" cy="427.3" r="3.8"/><circle cx="1093.5" cy="431.9" r="3.8"/><circle cx="1052.7" cy="440.2" r="3.8"/><circle cx="1061.4" cy="442.0" r="3.8"/><circle cx="1029.6" cy="449.4" r="3.8"/><circle cx="1057.8" cy="459.3" r="3.8"/><circle cx="1038.1" cy="466.2" r="3.8"/><circle cx="1045.1" cy="472.9" r="3.8"/><circle cx="928.3" cy="491.5" r="3.8"/><circle cx="921.5" cy="507.9" r="3.8"/><circle cx="985.8" cy="506.1" r="3.8"/><circle cx="1026.0" cy="512.7" r="3.8"/><circle cx="1041.9" cy="510.6" r="3.8"/><circle cx="937.3" cy="520.3" r="3.8"/><circle cx="933.3" cy="533.0" r="3.8"/><circle cx="941.1" cy="533.0" r="3.8"/><circle cx="1009.8" cy="540.1" r="3.8"/><circle cx="1021.3" cy="537.9" r="3.8"/><circle cx="1033.6" cy="537.9" r="3.8"/><circle cx="1016.6" cy="543.6" r="3.8"/><circle cx="950.0" cy="547.6" r="3.8"/><circle cx="957.7" cy="549.2" r="3.8"/><circle cx="954.1" cy="552.4" r="3.8"/><circle cx="961.6" cy="557.7" r="3.8"/><circle cx="1000.4" cy="560.4" r="3.8"/><circle cx="996.9" cy="561.2" r="3.8"/><circle cx="993.7" cy="562.7" r="3.8"/><circle cx="1013.7" cy="566.2" r="3.8"/><circle cx="945.7" cy="573.1" r="3.8"/><circle cx="1005.3" cy="575.4" r="3.8"/><circle cx="989.5" cy="581.0" r="3.8"/><circle cx="973.9" cy="586.0" r="3.8"/><circle cx="977.5" cy="587.4" r="3.8"/><circle cx="981.5" cy="587.7" r="3.8"/><circle cx="969.5" cy="616.5" r="3.8"/><circle cx="965.4" cy="622.2" r="3.8"/><circle cx="1122.1" cy="382.4" r="3.8"/><circle cx="1141.9" cy="410.5" r="3.8"/><circle cx="1129.6" cy="428.7" r="3.8"/><circle cx="1126.0" cy="440.2" r="3.8"/><circle cx="1133.7" cy="442.0" r="3.8"/><circle cx="1157.9" cy="451.1" r="3.8"/><circle cx="1145.2" cy="454.7" r="3.8"/><circle cx="1137.4" cy="456.4" r="3.8"/><circle cx="1153.7" cy="467.2" r="3.8"/><circle cx="1161.8" cy="488.8" r="3.8"/><circle cx="1322.2" cy="357.2" r="3.8"/><circle cx="1334.0" cy="356.8" r="3.8"/><circle cx="1326.1" cy="367.8" r="3.8"/><circle cx="1340.2" cy="367.8" r="3.8"/><circle cx="1337.6" cy="374.5" r="3.8"/><circle cx="1286.0" cy="392.1" r="3.8"/><circle cx="1330.0" cy="392.9" r="3.8"/><circle cx="1318.1" cy="394.6" r="3.8"/><circle cx="1313.7" cy="396.4" r="3.8"/><circle cx="1302.1" cy="397.8" r="3.8"/><circle cx="1299.0" cy="400.1" r="3.8"/><circle cx="1306.1" cy="412.5" r="3.8"/><circle cx="1278.0" cy="425.7" r="3.8"/><circle cx="1293.5" cy="426.9" r="3.8"/><circle cx="1274.7" cy="458.4" r="3.8"/><circle cx="1270.3" cy="480.8" r="3.8"/><circle cx="1281.9" cy="481.7" r="3.8"/><circle cx="1289.9" cy="479.0" r="3.8"/><circle cx="1150.0" cy="506.8" r="3.8"/><circle cx="1265.3" cy="503.8" r="3.8"/><circle cx="1262.4" cy="503.0" r="3.8"/><circle cx="1173.8" cy="518.5" r="3.8"/><circle cx="1250.1" cy="522.4" r="3.8"/><circle cx="1253.4" cy="518.9" r="3.8"/><circle cx="1257.7" cy="529.1" r="3.8"/><circle cx="1238.1" cy="531.8" r="3.8"/><circle cx="1230.2" cy="539.5" r="3.8"/><circle cx="1169.5" cy="549.8" r="3.8"/><circle cx="1213.9" cy="553.8" r="3.8"/><circle cx="1243.5" cy="551.5" r="3.8"/><circle cx="1182.5" cy="557.4" r="3.8"/><circle cx="1186.5" cy="557.7" r="3.8"/><circle cx="1165.9" cy="562.5" r="3.8"/><circle cx="1246.1" cy="566.2" r="3.8"/><circle cx="1177.7" cy="576.3" r="3.8"/><circle cx="1225.1" cy="576.3" r="3.8"/><circle cx="1192.7" cy="590.7" r="3.8"/><circle cx="1221.9" cy="596.0" r="3.8"/><circle cx="1206.0" cy="601.3" r="3.8"/><circle cx="1233.9" cy="601.3" r="3.8"/><circle cx="1190.1" cy="605.1" r="3.8"/><circle cx="1201.9" cy="619.0" r="3.8"/><circle cx="1209.9" cy="624.5" r="3.8"/><circle cx="1218.3" cy="624.0" r="3.8"/><circle cx="1198.0" cy="669.3" r="3.8"/></g>
<path d="M148.6 412.1 L150.6 408.1 L152.6 404.3 L154.6 400.8 L156.6 397.6 L158.6 394.6 L160.6 392.0 L162.6 389.6 L164.6 387.6 L166.6 385.8 L168.6 384.3 L170.6 383.1 L172.6 382.1 L174.6 381.5 L176.6 381.1 L178.6 381.0 L180.6 381.2 L182.6 381.6 L184.6 382.3 L186.6 383.4 L188.6 384.7 L190.6 386.3 L192.6 388.2 L194.6 390.5 L196.6 393.1 L198.6 396.0 L200.6 399.2 L202.6 402.6 L204.6 406.4 L206.6 410.5 L208.6 415.0 L210.6 419.7 L212.6 424.7 L214.6 429.9 L216.6 435.3 L218.6 440.8 L220.6 446.6 L222.6 452.6 L224.6 458.7 L226.6 465.1 L228.6 471.5 L230.6 478.1 L232.6 484.7 L234.6 491.3 L236.6 498.0 L238.6 504.6 L240.6 511.2 L242.6 517.7 L244.6 524.1 L246.6 530.3 L248.6 536.4 L250.6 542.3 L252.6 548.0 L254.6 553.3 L256.6 558.1 L258.6 562.6 L260.6 566.8 L262.6 570.8 L264.6 574.4 L266.6 577.7 L268.6 580.7 L270.6 583.4 L272.6 585.8 L274.6 587.8 L276.6 589.6 L278.6 591.0 L280.6 592.1 L282.6 592.8 L284.6 593.3 L286.6 593.3 L288.6 593.0 L290.6 592.3 L292.6 591.1 L294.6 589.8 L296.6 588.4 L298.6 586.9 L300.6 585.2 L302.6 583.2 L304.6 581.1 L306.6 578.8 L308.6 576.3 L310.6 573.7 L312.6 570.9 L314.6 567.9 L316.6 564.8 L318.6 561.6 L320.6 558.1 L322.6 554.5 L324.6 550.6 L326.6 546.6 L328.6 542.3 L330.6 537.8 L332.6 533.2 L334.6 528.3 L336.6 523.4 L338.6 518.2 L340.6 513.0 L342.6 507.5 L344.6 501.9 L346.6 496.2 L348.6 490.4 L350.6 484.5 L352.6 478.4 L354.6 472.4 L356.6 466.4 L358.6 460.4 L360.6 454.4 L362.6 448.6 L364.6 442.8 L366.6 437.2 L368.6 431.5 L370.6 426.0 L372.6 420.6 L374.6 415.4 L376.6 410.5 L378.6 405.9 L380.6 401.5 L382.6 397.4 L384.6 393.6 L386.6 390.1 L388.6 386.9 L390.6 384.0 L392.6 381.5 L394.6 379.4 L396.6 377.7 L398.6 376.3 L400.6 375.2 L402.6 374.6 L404.6 374.2 L406.6 374.3 L408.6 374.6 L410.6 375.4 L412.6 376.6 L414.6 378.1 L416.6 380.0 L418.6 382.3 L420.6 384.8 L422.6 387.6 L424.6 390.8 L426.6 394.3 L428.6 398.0 L430.6 402.0 L432.6 406.2 L434.6 410.7 L436.6 415.2 L438.6 420.0 L440.6 425.0 L442.6 430.2 L444.6 435.6 L446.6 441.1 L448.6 446.8 L450.6 452.6 L452.6 458.7 L454.6 464.8 L456.6 471.0 L458.6 477.2 L460.6 483.4 L462.6 489.6 L464.6 495.8 L466.6 502.0 L468.6 508.0 L470.6 513.9 L472.6 519.6 L474.6 525.2 L476.6 530.7 L478.6 536.0 L480.6 541.0 L482.6 545.8 L484.6 550.3 L486.6 554.6 L488.6 558.6 L490.6 562.3 L492.6 565.8 L494.6 568.9 L496.6 571.9 L498.6 574.6 L500.6 577.0 L502.6 579.4 L504.6 581.5 L506.6 583.3 L508.6 585.0 L510.6 586.4 L512.6 587.6 L514.6 588.6 L516.6 589.3 L518.6 589.8 L520.6 589.9 L522.6 589.7 L524.6 589.2 L526.6 588.5 L528.6 587.5 L530.6 586.1 L532.6 584.5 L534.6 582.6 L536.6 580.5 L538.6 578.1 L540.6 575.5 L542.6 572.7 L544.6 569.8 L546.6 566.6 L548.6 563.2 L550.6 559.6 L552.6 555.7 L554.6 551.6 L556.6 547.2 L558.6 542.6 L560.6 537.8 L562.6 532.8 L564.6 527.5 L566.6 522.1 L568.6 516.3 L570.6 510.4 L572.6 504.2 L574.6 497.8 L576.6 491.5 L578.6 485.1 L580.6 478.6 L582.6 472.2 L584.6 465.7 L586.6 459.3 L588.6 452.8 L590.6 446.5 L592.6 440.3 L594.6 434.4 L596.6 428.7 L598.6 423.2 L600.6 417.9 L602.6 412.9 L604.6 408.1 L606.6 403.6 L608.6 399.3 L610.6 395.4 L612.6 391.9 L614.6 388.7 L616.6 385.8 L618.6 383.3 L620.6 381.2 L622.6 379.4 L624.6 377.9 L626.6 376.7 L628.6 376.0 L630.6 375.5 L632.6 375.5 L634.6 375.9 L636.6 376.7 L638.6 377.7 L640.6 379.2 L642.6 380.9 L644.6 382.9 L646.6 385.1 L648.6 387.7 L650.6 390.6 L652.6 393.7 L654.6 397.0 L656.6 400.4 L658.6 404.1 L660.6 407.9 L662.6 411.7 L664.6 415.7 L666.6 419.9 L668.6 424.2 L670.6 428.7 L672.6 433.3 L674.6 438.1 L676.6 443.0 L678.6 448.0 L680.6 453.0 L682.6 458.2 L684.6 463.5 L686.6 468.8 L688.6 474.3 L690.6 479.8 L692.6 485.4 L694.6 491.1 L696.6 496.8 L698.6 502.6 L700.6 508.3 L702.6 513.9 L704.6 519.5 L706.6 525.0 L708.6 530.4 L710.6 535.6 L712.6 540.7 L714.6 545.5 L716.6 550.1 L718.6 554.5 L720.6 558.7 L722.6 562.6 L724.6 566.4 L726.6 570.0 L728.6 573.4 L730.6 576.6 L732.6 579.7 L734.6 582.6 L736.6 585.4 L738.6 587.9 L740.6 590.0 L742.6 591.9 L744.6 593.5 L746.6 594.7 L748.6 595.6 L750.6 596.2 L752.6 596.4 L754.6 596.2 L756.6 595.6 L758.6 594.5 L760.6 593.1 L762.6 591.2 L764.6 589.1 L766.6 586.5 L768.6 583.6 L770.6 580.3 L772.6 576.8 L774.6 572.9 L776.6 568.8 L778.6 564.4 L780.6 559.9 L782.6 555.1 L784.6 550.1 L786.6 544.8 L788.6 539.4 L790.6 533.7 L792.6 527.9 L794.6 522.0 L796.6 515.9 L798.6 509.7 L800.6 503.5 L802.6 497.1 L804.6 490.7 L806.6 484.3 L808.6 477.9 L810.6 471.6 L812.6 465.3 L814.6 459.0 L816.6 453.0 L818.6 447.1 L820.6 441.4 L822.6 435.9 L824.6 430.4 L826.6 425.2 L828.6 420.3 L830.6 415.7 L832.6 411.5 L834.6 407.5 L836.6 404.0 L838.6 400.7 L840.6 397.8 L842.6 395.2 L844.6 392.8 L846.6 390.8 L848.6 389.1 L850.6 387.7 L852.6 386.5 L854.6 385.5 L856.6 384.8 L858.6 384.2 L860.6 383.9 L862.6 383.9 L864.6 384.2 L866.6 384.7 L868.6 385.5 L870.6 386.5 L872.6 387.8 L874.6 389.3 L876.6 390.9 L878.6 392.8 L880.6 394.8 L882.6 396.9 L884.6 399.3 L886.6 401.9 L888.6 404.5 L890.6 407.3 L892.6 410.2 L894.6 413.1 L896.6 416.3 L898.6 419.6 L900.6 423.1 L902.6 426.9 L904.6 431.1 L906.6 435.5 L908.6 440.2 L910.6 445.1 L912.6 450.3 L914.6 455.6 L916.6 461.2 L918.6 466.8 L920.6 472.6 L922.6 478.6 L924.6 484.6 L926.6 490.8 L928.6 496.9 L930.6 503.1 L932.6 509.4 L934.6 515.7 L936.6 521.9 L938.6 528.2 L940.6 534.5 L942.6 540.5 L944.6 546.2 L946.6 551.7 L948.6 556.9 L950.6 561.8 L952.6 566.5 L954.6 570.9 L956.6 574.9 L958.6 578.5 L960.6 581.9 L962.6 584.9 L964.6 587.7 L966.6 590.2 L968.6 592.3 L970.6 594.3 L972.6 596.0 L974.6 597.4 L976.6 598.6 L978.6 599.5 L980.6 599.8 L982.6 599.6 L984.6 598.9 L986.6 597.7 L988.6 595.8 L990.6 593.6 L992.6 591.0 L994.6 588.1 L996.6 584.9 L998.6 581.3 L1000.6 577.4 L1002.6 573.3 L1004.6 568.9 L1006.6 564.4 L1008.6 559.7 L1010.6 554.9 L1012.6 550.0 L1014.6 544.9 L1016.6 539.7 L1018.6 534.3 L1020.6 528.8 L1022.6 523.3 L1024.6 517.6 L1026.6 511.8 L1028.6 506.0 L1030.6 500.1 L1032.6 494.3 L1034.6 488.4 L1036.6 482.7 L1038.6 477.0 L1040.6 471.4 L1042.6 465.7 L1044.6 460.1 L1046.6 454.5 L1048.6 449.1 L1050.6 443.9 L1052.6 438.6 L1054.6 433.5 L1056.6 428.6 L1058.6 424.1 L1060.6 419.8 L1062.6 415.9 L1064.6 412.3 L1066.6 408.9 L1068.6 405.8 L1070.6 403.0 L1072.6 400.4 L1074.6 398.1 L1076.6 395.9 L1078.6 393.8 L1080.6 391.9 L1082.6 390.1 L1084.6 388.4 L1086.6 387.0 L1088.6 385.7 L1090.6 384.5 L1092.6 383.5 L1094.6 382.7 L1096.6 382.3 L1098.6 382.3 L1100.6 382.6 L1102.6 383.1 L1104.6 384.0 L1106.6 385.1 L1108.6 386.5 L1110.6 388.2 L1112.6 390.2 L1114.6 392.6 L1116.6 395.2 L1118.6 398.0 L1120.6 401.1 L1122.6 404.4 L1124.6 408.0 L1126.6 411.8 L1128.6 415.9 L1130.6 420.1 L1132.6 424.7 L1134.6 429.5 L1136.6 434.5 L1138.6 439.7 L1140.6 445.2 L1142.6 450.8 L1144.6 456.7 L1146.6 462.7 L1148.6 468.9 L1150.6 475.3 L1152.6 481.7 L1154.6 488.2 L1156.6 494.7 L1158.6 501.2 L1160.6 507.6 L1162.6 514.0 L1164.6 520.4 L1166.6 526.5 L1168.6 532.4 L1170.6 538.2 L1172.6 543.7 L1174.6 549.0 L1176.6 554.1 L1178.6 559.0 L1180.6 563.5 L1182.6 567.8 L1184.6 571.8 L1186.6 575.5 L1188.6 578.9 L1190.6 582.0 L1192.6 584.9 L1194.6 587.4 L1196.6 589.5 L1198.6 591.4 L1200.6 592.9 L1202.6 594.0 L1204.6 594.8 L1206.6 595.2 L1208.6 595.3 L1210.6 594.9 L1212.6 594.0 L1214.6 592.7 L1216.6 591.2 L1218.6 589.5 L1220.6 587.7 L1222.6 585.6 L1224.6 583.3 L1226.6 580.9 L1228.6 578.2 L1230.6 575.4 L1232.6 572.6 L1234.6 569.6 L1236.6 566.6 L1238.6 563.3 L1240.6 559.7 L1242.6 555.9 L1244.6 551.8 L1246.6 547.4 L1248.6 542.8 L1250.6 537.8 L1252.6 532.6 L1254.6 527.2 L1256.6 521.7 L1258.6 516.2 L1260.6 510.6 L1262.6 504.9 L1264.6 499.1 L1266.6 493.3 L1268.6 487.5 L1270.6 481.8 L1272.6 476.0 L1274.6 470.1 L1276.6 464.3 L1278.6 458.6 L1280.6 452.9 L1282.6 447.1 L1284.6 441.3 L1286.6 435.6 L1288.6 430.2 L1290.6 424.9 L1292.6 419.9 L1294.6 415.0 L1296.6 410.4 L1298.6 406.0 L1300.6 402.0 L1302.6 398.2 L1304.6 394.6 L1306.6 391.5 L1308.6 388.5 L1310.6 385.9 L1312.6 383.5 L1314.6 381.4 L1316.6 379.6 L1318.6 378.1 L1320.6 376.9 L1322.6 376.0 L1324.6 375.4 L1326.6 375.2 L1328.6 375.3 L1330.6 375.9 L1332.6 376.9 L1334.6 378.3 L1336.6 380.0 L1338.6 382.2 L1342.5 387.5" fill="none" stroke="#1f77b4" stroke-width="4.8" stroke-linejoin="round" stroke-linecap="square"/>
<path d="M148.6 471.6 L150.6 471.6 L152.6 470.4 L154.6 469.5 L156.6 468.6 L158.6 469.4 L160.6 467.0 L162.6 465.7 L164.6 464.6 L166.6 463.5 L168.6 462.1 L170.6 460.8 L172.6 459.4 L174.6 457.9 L176.6 457.4 L178.6 457.5 L180.6 457.6 L182.6 457.6 L184.6 457.6 L186.6 457.5 L188.6 457.3 L190.6 457.5 L192.6 458.5 L194.6 459.5 L196.6 460.5 L198.6 461.6 L200.6 462.9 L202.6 464.5 L204.6 465.9 L206.6 467.4 L208.6 470.2 L210.6 470.2 L212.6 470.2 L214.6 473.2 L216.6 474.7 L218.6 476.2 L220.6 476.5 L222.6 479.0 L224.6 481.4 L226.6 483.5 L228.6 485.1 L230.6 487.0 L232.6 488.9 L234.6 490.8 L236.6 493.1 L238.6 495.1 L240.6 496.1 L242.6 497.6 L244.6 499.0 L246.6 500.0 L248.6 502.0 L250.6 504.0 L252.6 505.1 L254.6 506.3 L256.6 507.7 L258.6 508.9 L260.6 510.4 L262.6 511.8 L264.6 512.8 L266.6 513.7 L268.6 514.6 L270.6 515.2 L272.6 515.4 L274.6 515.2 L276.6 514.9 L278.6 514.7 L280.6 513.6 L282.6 513.4 L284.6 513.0 L286.6 512.5 L288.6 512.3 L290.6 511.8 L292.6 510.6 L294.6 509.5 L296.6 508.6 L298.6 507.6 L300.6 506.6 L302.6 505.5 L304.6 504.6 L306.6 503.6 L308.6 502.7 L310.6 501.9 L312.6 501.0 L314.6 500.2 L316.6 499.4 L318.6 498.4 L320.6 497.4 L322.6 496.7 L324.6 495.8 L326.6 495.1 L328.6 494.6 L330.6 494.2 L332.6 494.0 L334.6 493.7 L336.6 493.5 L338.6 493.3 L340.6 493.3 L342.6 493.0 L344.6 492.3 L346.6 491.3 L348.6 490.5 L350.6 489.5 L352.6 488.7 L354.6 487.8 L356.6 486.6 L358.6 485.4 L360.6 484.3 L362.6 483.0 L364.6 481.8 L366.6 480.5 L368.6 478.8 L370.6 476.8 L372.6 475.0 L374.6 473.0 L376.6 471.1 L378.6 469.3 L380.6 467.2 L382.6 465.2 L384.6 463.3 L386.6 461.3 L388.6 459.3 L390.6 457.9 L392.6 456.5 L394.6 455.0 L396.6 453.6 L398.6 452.1 L400.6 451.2 L402.6 450.7 L404.6 450.5 L406.6 450.9 L408.6 451.4 L410.6 451.7 L412.6 452.0 L414.6 451.9 L416.6 453.1 L418.6 454.7 L420.6 456.4 L422.6 457.9 L424.6 458.8 L426.6 462.8 L428.6 466.9 L430.6 465.4 L432.6 467.1 L434.6 468.9 L436.6 470.1 L438.6 472.4 L440.6 474.6 L442.6 476.7 L444.6 478.3 L446.6 480.6 L448.6 482.0 L450.6 483.5 L452.6 485.0 L454.6 486.2 L456.6 488.0 L458.6 489.7 L460.6 491.1 L462.6 492.8 L464.6 495.0 L466.6 496.0 L468.6 496.6 L470.6 497.6 L472.6 499.1 L474.6 500.3 L476.6 500.3 L478.6 500.3 L480.6 500.3 L482.6 502.0 L484.6 502.7 L486.6 503.9 L488.6 504.9 L490.6 504.4 L492.6 504.0 L494.6 503.5 L496.6 505.2 L498.6 505.7 L500.6 506.6 L502.6 507.6 L504.6 507.1 L506.6 506.6 L508.6 506.1 L510.6 507.7 L512.6 508.0 L514.6 508.7 L516.6 509.6 L518.6 509.4 L520.6 509.2 L522.6 509.5 L524.6 509.7 L526.6 509.9 L528.6 510.2 L530.6 510.3 L532.6 510.2 L534.6 510.2 L536.6 510.1 L538.6 510.0 L540.6 509.6 L542.6 509.3 L544.6 508.9 L546.6 508.5 L548.6 508.1 L550.6 506.7 L552.6 505.6 L554.6 504.5 L556.6 503.4 L558.6 502.3 L560.6 501.1 L562.6 499.9 L564.6 498.7 L566.6 497.7 L568.6 498.1 L570.6 495.2 L572.6 492.4 L574.6 489.8 L576.6 489.8 L578.6 488.1 L580.6 486.9 L582.6 486.5 L584.6 483.1 L586.6 481.7 L588.6 480.1 L590.6 477.9 L592.6 476.4 L594.6 474.7 L596.6 471.5 L598.6 468.2 L600.6 466.6 L602.6 464.8 L604.6 463.0 L606.6 462.0 L608.6 460.6 L610.6 458.8 L612.6 457.6 L614.6 456.2 L616.6 454.3 L618.6 454.2 L620.6 453.6 L622.6 453.1 L624.6 452.5 L626.6 451.8 L628.6 451.1 L630.6 451.9 L632.6 452.8 L634.6 453.7 L636.6 454.6 L638.6 455.7 L640.6 457.4 L642.6 459.2 L644.6 461.1 L646.6 463.2 L648.6 465.3 L650.6 467.1 L652.6 468.3 L654.6 469.9 L656.6 471.3 L658.6 472.8 L660.6 473.8 L662.6 475.0 L664.6 476.4 L666.6 477.6 L668.6 478.9 L670.6 480.3 L672.6 481.3 L674.6 482.0 L676.6 482.8 L678.6 483.5 L680.6 484.5 L682.6 485.7 L684.6 487.1 L686.6 488.2 L688.6 488.4 L690.6 489.0 L692.6 489.6 L694.6 489.7 L696.6 490.6 L698.6 492.0 L700.6 491.3 L702.6 491.2 L704.6 491.0 L706.6 490.9 L708.6 491.3 L710.6 492.6 L712.6 493.8 L714.6 494.9 L716.6 496.2 L718.6 496.7 L720.6 497.2 L722.6 499.7 L724.6 501.0 L726.6 503.0 L728.6 504.7 L730.6 504.7 L732.6 504.7 L734.6 504.7 L736.6 508.0 L738.6 509.4 L740.6 511.4 L742.6 513.5 L744.6 513.6 L746.6 514.1 L748.6 515.3 L750.6 516.3 L752.6 517.2 L754.6 518.3 L756.6 519.0 L758.6 519.2 L760.6 519.4 L762.6 519.5 L764.6 519.5 L766.6 518.0 L768.6 516.2 L770.6 514.4 L772.6 512.7 L774.6 510.9 L776.6 508.9 L778.6 507.5 L780.6 505.8 L782.6 504.0 L784.6 502.6 L786.6 500.6 L788.6 498.8 L790.6 497.2 L792.6 495.5 L794.6 493.8 L796.6 492.1 L798.6 490.5 L800.6 488.7 L802.6 486.7 L804.6 484.9 L806.6 483.1 L808.6 481.6 L810.6 480.6 L812.6 479.5 L814.6 477.9 L816.6 476.5 L818.6 475.2 L820.6 473.5 L822.6 472.2 L824.6 470.9 L826.6 469.2 L828.6 468.1 L830.6 466.6 L832.6 464.9 L834.6 465.0 L836.6 464.4 L838.6 463.1 L840.6 462.3 L842.6 461.3 L844.6 459.7 L846.6 460.2 L848.6 459.9 L850.6 460.1 L852.6 460.2 L854.6 459.5 L856.6 460.6 L858.6 461.8 L860.6 462.2 L862.6 462.5 L864.6 463.1 L866.6 463.5 L868.6 463.9 L870.6 465.0 L872.6 465.6 L874.6 466.3 L876.6 466.9 L878.6 467.3 L880.6 468.2 L882.6 468.7 L884.6 469.3 L886.6 470.2 L888.6 470.7 L890.6 471.5 L892.6 472.8 L894.6 471.9 L896.6 472.1 L898.6 472.1 L900.6 470.2 L902.6 473.6 L904.6 474.8 L906.6 474.1 L908.6 474.9 L910.6 475.2 L912.6 475.9 L914.6 477.2 L916.6 478.3 L918.6 479.4 L920.6 480.5 L922.6 481.4 L924.6 483.0 L926.6 484.4 L928.6 486.1 L930.6 487.6 L932.6 488.5 L934.6 490.1 L936.6 491.9 L938.6 492.8 L940.6 495.4 L942.6 499.0 L944.6 500.3 L946.6 501.9 L948.6 503.8 L950.6 505.4 L952.6 507.2 L954.6 509.1 L956.6 510.6 L958.6 512.3 L960.6 514.0 L962.6 515.6 L964.6 517.1 L966.6 518.5 L968.6 519.9 L970.6 521.0 L972.6 521.8 L974.6 522.5 L976.6 523.1 L978.6 522.5 L980.6 521.8 L982.6 520.9 L984.6 520.1 L986.6 518.9 L988.6 517.5 L990.6 516.3 L992.6 514.9 L994.6 513.6 L996.6 512.6 L998.6 510.0 L1000.6 508.2 L1002.6 506.4 L1004.6 504.0 L1006.6 503.0 L1008.6 501.2 L1010.6 499.6 L1012.6 498.0 L1014.6 496.7 L1016.6 494.5 L1018.6 492.6 L1020.6 491.6 L1022.6 490.3 L1024.6 489.3 L1026.6 488.4 L1028.6 486.8 L1030.6 485.7 L1032.6 484.6 L1034.6 483.2 L1036.6 482.6 L1038.6 482.6 L1040.6 481.1 L1042.6 480.2 L1044.6 479.4 L1046.6 478.4 L1048.6 478.0 L1050.6 476.6 L1052.6 475.8 L1054.6 474.9 L1056.6 476.0 L1058.6 473.9 L1060.6 471.9 L1062.6 469.8 L1064.6 470.7 L1066.6 470.1 L1068.6 469.4 L1070.6 469.5 L1072.6 468.0 L1074.6 466.5 L1076.6 466.2 L1078.6 466.2 L1080.6 465.6 L1082.6 465.6 L1084.6 465.3 L1086.6 464.2 L1088.6 463.6 L1090.6 463.0 L1092.6 462.3 L1094.6 461.9 L1096.6 461.4 L1098.6 460.6 L1100.6 460.1 L1102.6 459.6 L1104.6 459.3 L1106.6 459.1 L1108.6 459.1 L1110.6 459.1 L1112.6 459.2 L1114.6 459.5 L1116.6 460.4 L1118.6 461.7 L1120.6 463.0 L1122.6 464.5 L1124.6 466.2 L1126.6 467.5 L1128.6 468.8 L1130.6 470.1 L1132.6 471.4 L1134.6 472.7 L1136.6 474.1 L1138.6 475.7 L1140.6 477.1 L1142.6 478.7 L1144.6 480.0 L1146.6 481.3 L1148.6 483.3 L1150.6 485.0 L1152.6 486.4 L1154.6 488.1 L1156.6 489.2 L1158.6 491.4 L1160.6 493.6 L1162.6 495.7 L1164.6 497.8 L1166.6 499.8 L1168.6 501.1 L1170.6 502.9 L1172.6 504.4 L1174.6 506.5 L1176.6 508.9 L1178.6 509.9 L1180.6 511.2 L1182.6 512.5 L1184.6 513.4 L1186.6 515.4 L1188.6 516.3 L1190.6 517.4 L1192.6 518.6 L1194.6 520.0 L1196.6 519.9 L1198.6 519.3 L1200.6 518.5 L1202.6 517.8 L1204.6 516.9 L1206.6 515.9 L1208.6 514.9 L1210.6 513.9 L1212.6 512.9 L1214.6 511.9 L1216.6 510.7 L1218.6 509.5 L1220.6 508.3 L1222.6 507.0 L1224.6 505.5 L1226.6 503.9 L1228.6 502.8 L1230.6 501.4 L1232.6 500.1 L1234.6 499.0 L1236.6 497.7 L1238.6 497.3 L1240.6 496.5 L1242.6 495.7 L1244.6 495.1 L1246.6 494.1 L1248.6 493.7 L1250.6 493.3 L1252.6 492.7 L1254.6 492.2 L1256.6 491.6 L1258.6 490.8 L1260.6 490.3 L1262.6 489.7 L1264.6 489.5 L1266.6 488.9 L1268.6 488.0 L1270.6 487.3 L1272.6 486.4 L1274.6 485.2 L1276.6 485.0 L1278.6 484.8 L1280.6 483.2 L1282.6 482.4 L1284.6 481.3 L1286.6 480.0 L1288.6 480.7 L1290.6 478.5 L1292.6 476.9 L1294.6 475.6 L1296.6 474.0 L1298.6 472.5 L1300.6 471.0 L1302.6 469.4 L1304.6 467.9 L1306.6 466.4 L1308.6 464.8 L1310.6 462.8 L1312.6 461.5 L1314.6 460.0 L1316.6 458.5 L1318.6 457.2 L1320.6 456.0 L1322.6 455.1 L1324.6 454.2 L1326.6 453.4 L1328.6 452.8 L1330.6 452.5 L1332.6 452.2 L1334.6 453.0 L1336.6 453.6 L1338.6 454.4 L1342.5 455.7" fill="none" stroke="#ff7f0e" stroke-width="4.8" stroke-linejoin="round" stroke-linecap="square"/>
</g>
<g clip-path="url(#c2)">
<path d="M148.6 1100.3 L150.6 1100.3 L152.6 1102.8 L154.6 1103.3 L156.6 1108.1 L158.6 1111.1 L160.6 1115.0 L162.6 1117.7 L164.6 1124.6 L166.6 1130.1 L168.6 1134.8 L170.6 1142.8 L172.6 1147.9 L174.6 1153.9 L176.6 1154.2 L178.6 1153.7 L180.6 1153.2 L182.6 1152.5 L184.6 1155.9 L186.6 1153.7 L188.6 1153.1 L190.6 1153.4 L192.6 1154.0 L194.6 1153.6 L196.6 1146.7 L198.6 1139.0 L200.6 1133.8 L202.6 1128.5 L204.6 1123.1 L206.6 1118.2 L208.6 1113.4 L210.6 1108.8 L212.6 1099.0 L214.6 1093.7 L216.6 1087.5 L218.6 1079.5 L220.6 1075.2 L222.6 1068.6 L224.6 1064.0 L226.6 1054.7 L228.6 1045.2 L230.6 1040.5 L232.6 1032.2 L234.6 1023.2 L236.6 1017.5 L238.6 1010.7 L240.6 1003.9 L242.6 999.3 L244.6 990.8 L246.6 987.3 L248.6 982.7 L250.6 976.1 L252.6 969.9 L254.6 963.4 L256.6 957.4 L258.6 948.4 L260.6 945.2 L262.6 937.0 L264.6 935.0 L266.6 930.1 L268.6 931.1 L270.6 930.1 L272.6 928.1 L274.6 931.0 L276.6 928.7 L278.6 930.9 L280.6 932.5 L282.6 932.7 L284.6 936.6 L286.6 940.5 L288.6 939.1 L290.6 944.2 L292.6 946.4 L294.6 952.7 L296.6 955.3 L298.6 959.6 L300.6 963.2 L302.6 966.3 L304.6 967.9 L306.6 974.9 L308.6 975.6 L310.6 981.6 L312.6 985.9 L314.6 986.6 L316.6 990.7 L318.6 994.5 L320.6 995.8 L322.6 997.2 L324.6 996.5 L326.6 1003.3 L328.6 1007.4 L330.6 1009.9 L332.6 1010.8 L334.6 1012.9 L336.6 1012.2 L338.6 1013.2 L340.6 1015.4 L342.6 1016.1 L344.6 1018.8 L346.6 1023.9 L348.6 1025.3 L350.6 1025.0 L352.6 1031.5 L354.6 1037.0 L356.6 1042.6 L358.6 1044.5 L360.6 1045.7 L362.6 1049.8 L364.6 1057.1 L366.6 1063.5 L368.6 1070.0 L370.6 1077.7 L372.6 1084.4 L374.6 1092.7 L376.6 1098.1 L378.6 1106.7 L380.6 1114.1 L382.6 1120.4 L384.6 1125.5 L386.6 1134.8 L388.6 1139.0 L390.6 1147.0 L392.6 1152.2 L394.6 1157.4 L396.6 1165.8 L398.6 1171.4 L400.6 1175.5 L402.6 1179.2 L404.6 1180.1 L406.6 1180.6 L408.6 1180.3 L410.6 1180.7 L412.6 1175.9 L414.6 1168.8 L416.6 1164.6 L418.6 1160.8 L420.6 1156.5 L422.6 1151.1 L424.6 1143.7 L426.6 1137.5 L428.6 1134.7 L430.6 1131.0 L432.6 1124.4 L434.6 1119.0 L436.6 1109.6 L438.6 1104.6 L440.6 1097.5 L442.6 1089.6 L444.6 1083.2 L446.6 1074.6 L448.6 1064.7 L450.6 1058.3 L452.6 1046.9 L454.6 1039.7 L456.6 1031.2 L458.6 1023.6 L460.6 1015.7 L462.6 1010.7 L464.6 1005.6 L466.6 1004.2 L468.6 998.9 L470.6 997.2 L472.6 994.2 L474.6 990.4 L476.6 992.6 L478.6 986.6 L480.6 982.1 L482.6 982.7 L484.6 977.1 L486.6 976.2 L488.6 974.5 L490.6 970.6 L492.6 968.8 L494.6 966.7 L496.6 965.2 L498.6 961.7 L500.6 960.6 L502.6 960.5 L504.6 960.8 L506.6 959.4 L508.6 959.7 L510.6 957.4 L512.6 954.9 L514.6 954.1 L516.6 950.5 L518.6 950.4 L520.6 949.1 L522.6 949.5 L524.6 949.1 L526.6 947.1 L528.6 946.3 L530.6 945.3 L532.6 947.1 L534.6 947.4 L536.6 947.2 L538.6 946.4 L540.6 950.7 L542.6 951.2 L544.6 951.6 L546.6 953.1 L548.6 956.2 L550.6 959.9 L552.6 964.6 L554.6 970.3 L556.6 975.6 L558.6 980.9 L560.6 985.1 L562.6 987.7 L564.6 992.4 L566.6 995.4 L568.6 999.1 L570.6 1006.5 L572.6 1006.0 L574.6 1015.8 L576.6 1021.4 L578.6 1029.3 L580.6 1037.4 L582.6 1044.4 L584.6 1052.8 L586.6 1059.5 L588.6 1067.7 L590.6 1076.1 L592.6 1082.8 L594.6 1092.9 L596.6 1098.2 L598.6 1108.2 L600.6 1109.7 L602.6 1119.7 L604.6 1127.2 L606.6 1132.6 L608.6 1140.5 L610.6 1146.2 L612.6 1151.4 L614.6 1158.4 L616.6 1165.2 L618.6 1165.8 L620.6 1169.1 L622.6 1171.0 L624.6 1174.2 L626.6 1174.9 L628.6 1178.0 L630.6 1180.1 L632.6 1176.1 L634.6 1172.4 L636.6 1166.0 L638.6 1160.5 L640.6 1153.6 L642.6 1149.6 L644.6 1141.8 L646.6 1133.7 L648.6 1128.5 L650.6 1116.8 L652.6 1112.7 L654.6 1107.9 L656.6 1101.1 L658.6 1096.7 L660.6 1090.8 L662.6 1085.5 L664.6 1084.2 L666.6 1076.7 L668.6 1071.2 L670.6 1069.0 L672.6 1063.5 L674.6 1061.7 L676.6 1058.2 L678.6 1056.8 L680.6 1050.2 L682.6 1048.5 L684.6 1043.3 L686.6 1037.1 L688.6 1035.2 L690.6 1028.1 L692.6 1028.9 L694.6 1025.8 L696.6 1024.5 L698.6 1023.1 L700.6 1023.8 L702.6 1021.7 L704.6 1024.6 L706.6 1022.4 L708.6 1020.5 L710.6 1016.3 L712.6 1012.6 L714.6 1006.2 L716.6 1004.8 L718.6 1000.7 L720.6 993.0 L722.6 988.7 L724.6 984.7 L726.6 981.7 L728.6 978.4 L730.6 970.1 L732.6 966.5 L734.6 961.6 L736.6 957.1 L738.6 952.0 L740.6 949.6 L742.6 942.8 L744.6 941.1 L746.6 935.7 L748.6 928.7 L750.6 924.4 L752.6 920.5 L754.6 919.5 L756.6 914.1 L758.6 911.0 L760.6 913.2 L762.6 913.0 L764.6 911.1 L766.6 917.6 L768.6 919.7 L770.6 925.7 L772.6 930.2 L774.6 938.0 L776.6 944.9 L778.6 949.6 L780.6 960.1 L782.6 965.3 L784.6 974.5 L786.6 978.9 L788.6 987.9 L790.6 991.6 L792.6 998.7 L794.6 1006.4 L796.6 1011.4 L798.6 1018.8 L800.6 1029.0 L802.6 1038.1 L804.6 1044.4 L806.6 1052.6 L808.6 1059.7 L810.6 1063.2 L812.6 1071.4 L814.6 1079.4 L816.6 1082.3 L818.6 1086.1 L820.6 1093.3 L822.6 1097.8 L824.6 1104.0 L826.6 1107.5 L828.6 1113.4 L830.6 1114.9 L832.6 1122.4 L834.6 1126.8 L836.6 1129.8 L838.6 1129.8 L840.6 1135.4 L842.6 1134.8 L844.6 1141.7 L846.6 1142.4 L848.6 1141.6 L850.6 1142.4 L852.6 1141.1 L854.6 1140.7 L856.6 1138.4 L858.6 1137.1 L860.6 1132.9 L862.6 1132.0 L864.6 1130.8 L866.6 1130.2 L868.6 1128.1 L870.6 1128.1 L872.6 1122.0 L874.6 1119.7 L876.6 1117.8 L878.6 1115.0 L880.6 1113.2 L882.6 1109.1 L884.6 1109.5 L886.6 1105.4 L888.6 1105.5 L890.6 1102.7 L892.6 1103.5 L894.6 1099.1 L896.6 1100.7 L898.6 1098.9 L900.6 1098.8 L902.6 1098.4 L904.6 1093.4 L906.6 1090.3 L908.6 1087.6 L910.6 1085.9 L912.6 1080.4 L914.6 1080.0 L916.6 1075.6 L918.6 1073.2 L920.6 1070.3 L922.6 1066.2 L924.6 1058.9 L926.6 1053.0 L928.6 1047.9 L930.6 1041.9 L932.6 1032.8 L934.6 1028.7 L936.6 1022.4 L938.6 1016.2 L940.6 1009.9 L942.6 1000.5 L944.6 992.3 L946.6 984.2 L948.6 979.9 L950.6 975.0 L952.6 969.0 L954.6 959.5 L956.6 953.5 L958.6 946.9 L960.6 940.9 L962.6 931.9 L964.6 924.0 L966.6 917.7 L968.6 912.6 L970.6 907.7 L972.6 905.9 L974.6 903.0 L976.6 901.3 L978.6 902.5 L980.6 902.8 L982.6 907.4 L984.6 910.3 L986.6 915.0 L988.6 920.8 L990.6 924.0 L992.6 927.2 L994.6 935.3 L996.6 941.2 L998.6 947.1 L1000.6 954.8 L1002.6 964.0 L1004.6 971.8 L1006.6 976.9 L1008.6 986.0 L1010.6 993.2 L1012.6 997.1 L1014.6 1005.1 L1016.6 1011.6 L1018.6 1018.2 L1020.6 1022.0 L1022.6 1029.2 L1024.6 1035.7 L1026.6 1039.3 L1028.6 1041.8 L1030.6 1041.4 L1032.6 1047.3 L1034.6 1050.1 L1036.6 1052.5 L1038.6 1059.8 L1040.6 1062.6 L1042.6 1066.9 L1044.6 1068.8 L1046.6 1071.6 L1048.6 1071.7 L1050.6 1073.6 L1052.6 1079.4 L1054.6 1083.0 L1056.6 1086.5 L1058.6 1092.8 L1060.6 1095.0 L1062.6 1099.1 L1064.6 1103.5 L1066.6 1105.1 L1068.6 1108.7 L1070.6 1113.8 L1072.6 1112.6 L1074.6 1115.7 L1076.6 1116.4 L1078.6 1118.7 L1080.6 1122.9 L1082.6 1123.5 L1084.6 1123.0 L1086.6 1125.5 L1088.6 1126.6 L1090.6 1130.7 L1092.6 1134.1 L1094.6 1136.8 L1096.6 1140.7 L1098.6 1143.3 L1100.6 1145.1 L1102.6 1146.2 L1104.6 1145.8 L1106.6 1148.0 L1108.6 1147.2 L1110.6 1149.6 L1112.6 1149.3 L1114.6 1148.4 L1116.6 1144.1 L1118.6 1138.4 L1120.6 1137.8 L1122.6 1133.8 L1124.6 1125.8 L1126.6 1122.8 L1128.6 1117.6 L1130.6 1108.1 L1132.6 1104.6 L1134.6 1096.6 L1136.6 1094.2 L1138.6 1096.7 L1140.6 1090.9 L1142.6 1084.3 L1144.6 1078.2 L1146.6 1068.4 L1148.6 1067.4 L1150.6 1059.2 L1152.6 1054.5 L1154.6 1047.3 L1156.6 1038.9 L1158.6 1029.5 L1160.6 1016.3 L1162.6 1007.1 L1164.6 997.6 L1166.6 991.5 L1168.6 986.9 L1170.6 979.6 L1172.6 971.7 L1174.6 966.4 L1176.6 957.7 L1178.6 951.8 L1180.6 945.2 L1182.6 938.0 L1184.6 932.5 L1186.6 930.1 L1188.6 927.1 L1190.6 921.8 L1192.6 916.2 L1194.6 914.8 L1196.6 909.5 L1198.6 911.5 L1200.6 915.5 L1202.6 921.1 L1204.6 922.3 L1206.6 924.0 L1208.6 929.2 L1210.6 932.7 L1212.6 936.3 L1214.6 938.0 L1216.6 940.9 L1218.6 945.8 L1220.6 950.9 L1222.6 958.3 L1224.6 965.2 L1226.6 966.5 L1228.6 971.6 L1230.6 976.8 L1232.6 980.5 L1234.6 985.5 L1236.6 988.3 L1238.6 990.5 L1240.6 994.5 L1242.6 995.9 L1244.6 998.6 L1246.6 1001.8 L1248.6 1006.4 L1250.6 1009.4 L1252.6 1010.6 L1254.6 1015.1 L1256.6 1015.8 L1258.6 1016.4 L1260.6 1016.9 L1262.6 1016.7 L1264.6 1018.2 L1266.6 1026.5 L1268.6 1025.8 L1270.6 1033.2 L1272.6 1038.4 L1274.6 1041.7 L1276.6 1043.3 L1278.6 1047.1 L1280.6 1047.6 L1282.6 1053.0 L1284.6 1057.9 L1286.6 1060.1 L1288.6 1066.5 L1290.6 1074.1 L1292.6 1081.6 L1294.6 1088.4 L1296.6 1093.7 L1298.6 1097.9 L1300.6 1102.9 L1302.6 1110.0 L1304.6 1115.9 L1306.6 1120.0 L1308.6 1127.1 L1310.6 1132.9 L1312.6 1139.1 L1314.6 1142.0 L1316.6 1149.1 L1318.6 1152.1 L1320.6 1157.7 L1322.6 1162.6 L1324.6 1168.7 L1326.6 1174.6 L1328.6 1174.3 L1330.6 1176.2 L1332.6 1176.1 L1334.6 1170.6 L1336.6 1169.8 L1338.6 1165.1 L1342.5 1165.7 L1342.5 1332.7 L1338.6 1334.7 L1336.6 1337.2 L1334.6 1343.9 L1332.6 1344.8 L1330.6 1344.5 L1328.6 1344.7 L1326.6 1341.7 L1324.6 1339.7 L1322.6 1337.1 L1320.6 1333.8 L1318.6 1326.7 L1316.6 1322.5 L1314.6 1318.0 L1312.6 1313.9 L1310.6 1304.7 L1308.6 1297.1 L1306.6 1292.5 L1304.6 1289.1 L1302.6 1282.3 L1300.6 1275.4 L1298.6 1270.5 L1296.6 1263.7 L1294.6 1259.0 L1292.6 1251.2 L1290.6 1245.5 L1288.6 1236.7 L1286.6 1234.4 L1284.6 1231.6 L1282.6 1225.6 L1280.6 1222.8 L1278.6 1218.8 L1276.6 1216.2 L1274.6 1216.0 L1272.6 1213.0 L1270.6 1210.7 L1268.6 1202.1 L1266.6 1198.9 L1264.6 1192.8 L1262.6 1191.2 L1260.6 1193.6 L1258.6 1188.8 L1256.6 1188.4 L1254.6 1187.3 L1252.6 1186.6 L1250.6 1183.1 L1248.6 1180.1 L1246.6 1175.9 L1244.6 1174.0 L1242.6 1174.0 L1240.6 1172.9 L1238.6 1169.5 L1236.6 1166.4 L1234.6 1161.2 L1232.6 1157.7 L1230.6 1150.7 L1228.6 1144.3 L1226.6 1137.6 L1224.6 1132.3 L1222.6 1128.4 L1220.6 1122.3 L1218.6 1117.9 L1216.6 1116.2 L1214.6 1109.3 L1212.6 1109.1 L1210.6 1107.2 L1208.6 1104.4 L1206.6 1099.9 L1204.6 1097.3 L1202.6 1094.1 L1200.6 1090.3 L1198.6 1087.8 L1196.6 1086.9 L1194.6 1092.7 L1192.6 1093.4 L1190.6 1098.6 L1188.6 1103.2 L1186.6 1104.6 L1184.6 1108.4 L1182.6 1113.9 L1180.6 1121.3 L1178.6 1128.8 L1176.6 1133.7 L1174.6 1139.1 L1172.6 1149.8 L1170.6 1154.0 L1168.6 1162.4 L1166.6 1168.4 L1164.6 1176.7 L1162.6 1183.8 L1160.6 1190.3 L1158.6 1200.4 L1156.6 1211.7 L1154.6 1218.6 L1152.6 1225.2 L1150.6 1233.1 L1148.6 1235.8 L1146.6 1245.1 L1144.6 1248.9 L1142.6 1253.8 L1140.6 1262.3 L1138.6 1262.5 L1136.6 1264.8 L1134.6 1269.9 L1132.6 1275.3 L1130.6 1280.6 L1128.6 1287.2 L1126.6 1289.5 L1124.6 1297.7 L1122.6 1301.2 L1120.6 1305.2 L1118.6 1308.1 L1116.6 1314.4 L1114.6 1317.0 L1112.6 1320.5 L1110.6 1318.1 L1108.6 1319.3 L1106.6 1317.2 L1104.6 1319.4 L1102.6 1316.1 L1100.6 1312.1 L1098.6 1309.6 L1096.6 1309.5 L1094.6 1306.2 L1092.6 1305.2 L1090.6 1300.6 L1088.6 1297.6 L1086.6 1297.6 L1084.6 1296.9 L1082.6 1292.1 L1080.6 1291.3 L1078.6 1287.1 L1076.6 1290.0 L1074.6 1285.3 L1072.6 1285.9 L1070.6 1281.6 L1068.6 1280.1 L1066.6 1276.8 L1064.6 1276.0 L1062.6 1271.0 L1060.6 1266.5 L1058.6 1263.1 L1056.6 1258.3 L1054.6 1253.3 L1052.6 1249.5 L1050.6 1243.4 L1048.6 1242.5 L1046.6 1242.3 L1044.6 1239.8 L1042.6 1233.9 L1040.6 1235.1 L1038.6 1227.1 L1036.6 1224.8 L1034.6 1217.0 L1032.6 1215.3 L1030.6 1212.3 L1028.6 1212.2 L1026.6 1210.6 L1024.6 1202.7 L1022.6 1198.9 L1020.6 1193.2 L1018.6 1186.3 L1016.6 1179.0 L1014.6 1173.3 L1012.6 1167.3 L1010.6 1161.9 L1008.6 1156.5 L1006.6 1151.3 L1004.6 1144.6 L1002.6 1135.4 L1000.6 1127.7 L998.6 1119.2 L996.6 1113.8 L994.6 1105.3 L992.6 1102.5 L990.6 1098.1 L988.6 1095.3 L986.6 1091.1 L984.6 1089.6 L982.6 1084.0 L980.6 1079.6 L978.6 1075.4 L976.6 1074.2 L974.6 1076.6 L972.6 1078.8 L970.6 1084.1 L968.6 1087.3 L966.6 1094.6 L964.6 1096.0 L962.6 1103.0 L960.6 1111.9 L958.6 1114.6 L956.6 1127.6 L954.6 1134.8 L952.6 1142.5 L950.6 1152.9 L948.6 1159.1 L946.6 1165.8 L944.6 1171.1 L942.6 1178.8 L940.6 1182.6 L938.6 1187.7 L936.6 1194.7 L934.6 1199.7 L932.6 1202.3 L930.6 1211.2 L928.6 1216.2 L926.6 1224.4 L924.6 1230.8 L922.6 1232.1 L920.6 1241.5 L918.6 1242.3 L916.6 1246.2 L914.6 1248.4 L912.6 1250.8 L910.6 1255.8 L908.6 1256.9 L906.6 1259.2 L904.6 1263.4 L902.6 1267.0 L900.6 1267.4 L898.6 1269.1 L896.6 1270.4 L894.6 1272.0 L892.6 1272.0 L890.6 1271.3 L888.6 1272.6 L886.6 1275.3 L884.6 1278.2 L882.6 1279.3 L880.6 1281.7 L878.6 1285.1 L876.6 1286.1 L874.6 1292.9 L872.6 1294.5 L870.6 1295.2 L868.6 1299.6 L866.6 1302.2 L864.6 1301.1 L862.6 1305.3 L860.6 1306.6 L858.6 1306.8 L856.6 1311.0 L854.6 1312.4 L852.6 1311.4 L850.6 1313.6 L848.6 1313.3 L846.6 1313.6 L844.6 1313.3 L842.6 1309.2 L840.6 1307.1 L838.6 1305.3 L836.6 1302.8 L834.6 1300.1 L832.6 1295.1 L830.6 1287.6 L828.6 1285.9 L826.6 1277.4 L824.6 1275.9 L822.6 1266.2 L820.6 1261.8 L818.6 1257.5 L816.6 1253.8 L814.6 1247.4 L812.6 1239.0 L810.6 1227.6 L808.6 1222.0 L806.6 1212.3 L804.6 1206.9 L802.6 1200.3 L800.6 1193.9 L798.6 1186.9 L796.6 1181.2 L794.6 1173.0 L792.6 1169.9 L790.6 1163.8 L788.6 1159.4 L786.6 1154.2 L784.6 1146.2 L782.6 1139.7 L780.6 1133.0 L778.6 1123.6 L776.6 1119.5 L774.6 1114.9 L772.6 1108.2 L770.6 1102.1 L768.6 1095.1 L766.6 1089.7 L764.6 1089.1 L762.6 1089.5 L760.6 1089.9 L758.6 1088.2 L756.6 1089.9 L754.6 1091.2 L752.6 1095.7 L750.6 1095.5 L748.6 1099.9 L746.6 1105.2 L744.6 1107.4 L742.6 1110.8 L740.6 1115.2 L738.6 1118.1 L736.6 1124.7 L734.6 1126.4 L732.6 1130.9 L730.6 1136.8 L728.6 1142.2 L726.6 1145.5 L724.6 1148.4 L722.6 1154.7 L720.6 1158.5 L718.6 1163.1 L716.6 1170.2 L714.6 1174.0 L712.6 1180.6 L710.6 1185.1 L708.6 1190.0 L706.6 1193.8 L704.6 1196.0 L702.6 1190.2 L700.6 1192.3 L698.6 1196.5 L696.6 1202.6 L694.6 1204.3 L692.6 1205.6 L690.6 1211.3 L688.6 1214.7 L686.6 1218.4 L684.6 1219.8 L682.6 1224.6 L680.6 1232.3 L678.6 1231.9 L676.6 1236.0 L674.6 1238.2 L672.6 1242.9 L670.6 1244.9 L668.6 1250.2 L666.6 1254.8 L664.6 1260.1 L662.6 1264.8 L660.6 1271.4 L658.6 1273.9 L656.6 1278.8 L654.6 1284.2 L652.6 1294.4 L650.6 1297.0 L648.6 1300.9 L646.6 1305.1 L644.6 1308.6 L642.6 1312.7 L640.6 1318.3 L638.6 1323.5 L636.6 1333.7 L634.6 1341.6 L632.6 1345.8 L630.6 1345.8 L628.6 1348.5 L626.6 1347.3 L624.6 1343.7 L622.6 1339.6 L620.6 1336.8 L618.6 1332.6 L616.6 1327.2 L614.6 1321.8 L612.6 1317.6 L610.6 1308.0 L608.6 1305.1 L606.6 1296.6 L604.6 1289.9 L602.6 1283.3 L600.6 1273.7 L598.6 1265.7 L596.6 1263.5 L594.6 1257.4 L592.6 1248.4 L590.6 1241.1 L588.6 1236.1 L586.6 1229.9 L584.6 1223.5 L582.6 1216.9 L580.6 1213.7 L578.6 1205.5 L576.6 1199.6 L574.6 1195.4 L572.6 1185.0 L570.6 1181.0 L568.6 1177.7 L566.6 1173.6 L564.6 1168.3 L562.6 1164.3 L560.6 1156.5 L558.6 1154.5 L556.6 1146.7 L554.6 1141.4 L552.6 1138.7 L550.6 1130.6 L548.6 1128.4 L546.6 1126.9 L544.6 1125.6 L542.6 1124.1 L540.6 1121.1 L538.6 1122.5 L536.6 1121.3 L534.6 1120.2 L532.6 1122.2 L530.6 1121.0 L528.6 1121.3 L526.6 1120.1 L524.6 1121.0 L522.6 1121.5 L520.6 1122.4 L518.6 1124.2 L516.6 1128.6 L514.6 1127.3 L512.6 1129.4 L510.6 1130.4 L508.6 1132.4 L506.6 1133.6 L504.6 1134.8 L502.6 1137.0 L500.6 1138.6 L498.6 1141.2 L496.6 1143.1 L494.6 1143.3 L492.6 1144.4 L490.6 1148.7 L488.6 1149.9 L486.6 1149.9 L484.6 1154.5 L482.6 1157.6 L480.6 1160.6 L478.6 1161.3 L476.6 1164.4 L474.6 1166.7 L472.6 1172.6 L470.6 1174.0 L468.6 1177.8 L466.6 1180.7 L464.6 1182.3 L462.6 1186.2 L460.6 1193.2 L458.6 1196.4 L456.6 1205.6 L454.6 1211.3 L452.6 1215.3 L450.6 1226.2 L448.6 1235.6 L446.6 1238.4 L444.6 1243.0 L442.6 1241.8 L440.6 1246.0 L438.6 1255.7 L436.6 1265.4 L434.6 1270.0 L432.6 1278.9 L430.6 1286.3 L428.6 1295.2 L426.6 1302.9 L424.6 1310.5 L422.6 1317.0 L420.6 1323.3 L418.6 1333.5 L416.6 1341.3 L414.6 1346.6 L412.6 1347.1 L410.6 1348.2 L408.6 1352.3 L406.6 1350.3 L404.6 1351.8 L402.6 1349.9 L400.6 1348.9 L398.6 1339.4 L396.6 1336.9 L394.6 1330.3 L392.6 1322.1 L390.6 1319.0 L388.6 1309.8 L386.6 1304.5 L384.6 1298.6 L382.6 1294.7 L380.6 1287.5 L378.6 1282.2 L376.6 1276.2 L374.6 1268.3 L372.6 1261.7 L370.6 1254.7 L368.6 1247.6 L366.6 1241.5 L364.6 1233.9 L362.6 1229.2 L360.6 1222.0 L358.6 1215.1 L356.6 1212.2 L354.6 1208.0 L352.6 1204.6 L350.6 1197.7 L348.6 1193.1 L346.6 1189.3 L344.6 1189.4 L342.6 1185.5 L340.6 1184.3 L338.6 1185.9 L336.6 1187.5 L334.6 1186.7 L332.6 1183.3 L330.6 1185.7 L328.6 1183.5 L326.6 1180.6 L324.6 1176.1 L322.6 1173.1 L320.6 1170.1 L318.6 1166.6 L316.6 1162.1 L314.6 1159.7 L312.6 1157.8 L310.6 1149.1 L308.6 1149.9 L306.6 1145.7 L304.6 1144.6 L302.6 1141.7 L300.6 1143.0 L298.6 1135.6 L296.6 1131.0 L294.6 1126.3 L292.6 1122.2 L290.6 1115.7 L288.6 1116.5 L286.6 1113.4 L284.6 1112.6 L282.6 1111.4 L280.6 1109.8 L278.6 1105.3 L276.6 1105.0 L274.6 1101.2 L272.6 1103.2 L270.6 1101.9 L268.6 1106.4 L266.6 1108.1 L264.6 1112.7 L262.6 1117.3 L260.6 1116.8 L258.6 1122.2 L256.6 1127.8 L254.6 1133.5 L252.6 1137.8 L250.6 1147.2 L248.6 1154.6 L246.6 1161.4 L244.6 1165.6 L242.6 1169.7 L240.6 1174.8 L238.6 1182.0 L236.6 1194.9 L234.6 1202.2 L232.6 1208.1 L230.6 1215.1 L228.6 1224.0 L226.6 1233.2 L224.6 1243.2 L222.6 1247.3 L220.6 1254.7 L218.6 1260.8 L216.6 1268.8 L214.6 1274.8 L212.6 1283.8 L210.6 1287.1 L208.6 1290.4 L206.6 1293.5 L204.6 1299.0 L202.6 1302.5 L200.6 1303.9 L198.6 1310.7 L196.6 1316.8 L194.6 1320.2 L192.6 1324.5 L190.6 1326.2 L188.6 1326.1 L186.6 1325.9 L184.6 1326.8 L182.6 1326.2 L180.6 1324.7 L178.6 1325.3 L176.6 1324.9 L174.6 1322.4 L172.6 1316.1 L170.6 1312.8 L168.6 1307.8 L166.6 1302.5 L164.6 1296.2 L162.6 1290.4 L160.6 1289.8 L158.6 1286.5 L156.6 1283.7 L154.6 1282.4 L152.6 1276.9 L150.6 1275.9 L148.6 1275.5 Z" fill="#95cf95"/>
<g fill="#d92528"><circle cx="273.0" cy="1002.8" r="3.8"/><circle cx="263.6" cy="1017.5" r="3.8"/><circle cx="268.9" cy="1031.6" r="3.8"/><circle cx="293.3" cy="1025.1" r="3.8"/><circle cx="288.4" cy="1036.4" r="3.8"/><circle cx="296.6" cy="1037.8" r="3.8"/><circle cx="256.3" cy="1047.5" r="3.8"/><circle cx="313.1" cy="1056.9" r="3.8"/><circle cx="299.9" cy="1058.6" r="3.8"/><circle cx="304.3" cy="1065.7" r="3.8"/><circle cx="253.6" cy="1066.1" r="3.8"/><circle cx="244.7" cy="1071.9" r="3.8"/><circle cx="249.7" cy="1074.9" r="3.8"/><circle cx="320.2" cy="1091.3" r="3.8"/><circle cx="235.2" cy="1097.0" r="3.8"/><circle cx="348.8" cy="1096.1" r="3.8"/><circle cx="352.9" cy="1107.9" r="3.8"/><circle cx="332.9" cy="1112.9" r="3.8"/><circle cx="364.7" cy="1120.5" r="3.8"/><circle cx="149.7" cy="1169.1" r="3.8"/><circle cx="157.7" cy="1180.9" r="3.8"/><circle cx="161.2" cy="1185.7" r="3.8"/><circle cx="168.6" cy="1199.5" r="3.8"/><circle cx="204.3" cy="1199.1" r="3.8"/><circle cx="184.7" cy="1229.0" r="3.8"/><circle cx="188.6" cy="1235.7" r="3.8"/><circle cx="200.9" cy="1236.2" r="3.8"/><circle cx="193.0" cy="1241.0" r="3.8"/><circle cx="180.6" cy="1250.4" r="3.8"/><circle cx="228.9" cy="1145.6" r="3.8"/><circle cx="223.8" cy="1151.4" r="3.8"/><circle cx="218.3" cy="1162.4" r="3.8"/><circle cx="214.9" cy="1173.0" r="3.8"/><circle cx="213.8" cy="1191.5" r="3.8"/><circle cx="209.4" cy="1206.5" r="3.8"/><circle cx="360.9" cy="1139.4" r="3.8"/><circle cx="370.6" cy="1150.0" r="3.8"/><circle cx="374.1" cy="1162.4" r="3.8"/><circle cx="378.6" cy="1176.5" r="3.8"/><circle cx="382.1" cy="1189.8" r="3.8"/><circle cx="385.0" cy="1207.4" r="3.8"/><circle cx="541.1" cy="1029.0" r="3.8"/><circle cx="512.5" cy="1037.8" r="3.8"/><circle cx="553.6" cy="1041.0" r="3.8"/><circle cx="529.8" cy="1040.4" r="3.8"/><circle cx="536.8" cy="1045.2" r="3.8"/><circle cx="549.1" cy="1046.6" r="3.8"/><circle cx="501.0" cy="1047.2" r="3.8"/><circle cx="488.3" cy="1055.8" r="3.8"/><circle cx="509.5" cy="1053.7" r="3.8"/><circle cx="517.2" cy="1053.7" r="3.8"/><circle cx="496.6" cy="1060.8" r="3.8"/><circle cx="479.8" cy="1066.4" r="3.8"/><circle cx="486.0" cy="1074.9" r="3.8"/><circle cx="477.4" cy="1080.7" r="3.8"/><circle cx="468.9" cy="1084.1" r="3.8"/><circle cx="464.4" cy="1088.5" r="3.8"/><circle cx="473.6" cy="1091.3" r="3.8"/><circle cx="457.1" cy="1103.2" r="3.8"/><circle cx="569.5" cy="1079.0" r="3.8"/><circle cx="560.7" cy="1074.9" r="3.8"/><circle cx="564.8" cy="1085.1" r="3.8"/><circle cx="577.5" cy="1092.9" r="3.8"/><circle cx="572.8" cy="1104.9" r="3.8"/><circle cx="585.2" cy="1118.5" r="3.8"/><circle cx="454.2" cy="1136.2" r="3.8"/><circle cx="450.2" cy="1146.5" r="3.8"/><circle cx="445.8" cy="1164.2" r="3.8"/><circle cx="438.0" cy="1187.1" r="3.8"/><circle cx="429.1" cy="1206.5" r="3.8"/><circle cx="433.5" cy="1215.9" r="3.8"/><circle cx="424.8" cy="1223.0" r="3.8"/><circle cx="417.4" cy="1244.9" r="3.8"/><circle cx="398.3" cy="1251.6" r="3.8"/><circle cx="421.5" cy="1265.4" r="3.8"/><circle cx="414.4" cy="1264.8" r="3.8"/><circle cx="404.7" cy="1271.5" r="3.8"/><circle cx="580.9" cy="1135.0" r="3.8"/><circle cx="589.6" cy="1143.0" r="3.8"/><circle cx="594.0" cy="1159.7" r="3.8"/><circle cx="602.0" cy="1187.1" r="3.8"/><circle cx="609.2" cy="1211.8" r="3.8"/><circle cx="614.9" cy="1233.0" r="3.8"/><circle cx="618.6" cy="1243.6" r="3.8"/><circle cx="640.2" cy="1232.2" r="3.8"/><circle cx="628.2" cy="1256.0" r="3.8"/><circle cx="620.2" cy="1256.9" r="3.8"/><circle cx="638.8" cy="1258.7" r="3.8"/><circle cx="633.5" cy="1268.4" r="3.8"/><circle cx="761.3" cy="989.8" r="3.8"/><circle cx="769.3" cy="988.9" r="3.8"/><circle cx="758.7" cy="1006.9" r="3.8"/><circle cx="765.4" cy="1009.5" r="3.8"/><circle cx="753.4" cy="1013.1" r="3.8"/><circle cx="773.1" cy="1015.2" r="3.8"/><circle cx="746.3" cy="1029.5" r="3.8"/><circle cx="742.8" cy="1035.1" r="3.8"/><circle cx="777.6" cy="1029.9" r="3.8"/><circle cx="738.3" cy="1047.9" r="3.8"/><circle cx="781.7" cy="1051.9" r="3.8"/><circle cx="785.1" cy="1054.6" r="3.8"/><circle cx="730.4" cy="1071.4" r="3.8"/><circle cx="723.4" cy="1071.4" r="3.8"/><circle cx="789.2" cy="1080.2" r="3.8"/><circle cx="797.1" cy="1085.1" r="3.8"/><circle cx="723.3" cy="1086.4" r="3.8"/><circle cx="717.8" cy="1099.3" r="3.8"/><circle cx="701.2" cy="1101.0" r="3.8"/><circle cx="704.8" cy="1102.8" r="3.8"/><circle cx="696.0" cy="1110.2" r="3.8"/><circle cx="714.1" cy="1109.9" r="3.8"/><circle cx="709.6" cy="1119.4" r="3.8"/><circle cx="685.4" cy="1123.5" r="3.8"/><circle cx="801.7" cy="1120.8" r="3.8"/><circle cx="805.0" cy="1123.5" r="3.8"/><circle cx="677.8" cy="1137.7" r="3.8"/><circle cx="681.8" cy="1148.3" r="3.8"/><circle cx="668.3" cy="1153.6" r="3.8"/><circle cx="673.9" cy="1156.2" r="3.8"/><circle cx="665.5" cy="1171.2" r="3.8"/><circle cx="655.8" cy="1183.6" r="3.8"/><circle cx="652.1" cy="1198.6" r="3.8"/><circle cx="647.8" cy="1214.5" r="3.8"/><circle cx="643.2" cy="1226.0" r="3.8"/><circle cx="809.6" cy="1151.8" r="3.8"/><circle cx="817.6" cy="1155.3" r="3.8"/><circle cx="825.7" cy="1176.9" r="3.8"/><circle cx="820.9" cy="1185.7" r="3.8"/><circle cx="829.2" cy="1194.2" r="3.8"/><circle cx="832.0" cy="1212.2" r="3.8"/><circle cx="839.0" cy="1209.2" r="3.8"/><circle cx="842.6" cy="1213.6" r="3.8"/><circle cx="845.4" cy="1217.1" r="3.8"/><circle cx="849.6" cy="1235.3" r="3.8"/><circle cx="854.9" cy="1227.7" r="3.8"/><circle cx="865.5" cy="1206.5" r="3.8"/><circle cx="873.5" cy="1213.6" r="3.8"/><circle cx="877.0" cy="1196.0" r="3.8"/><circle cx="981.9" cy="976.0" r="3.8"/><circle cx="972.2" cy="986.6" r="3.8"/><circle cx="970.1" cy="999.8" r="3.8"/><circle cx="991.7" cy="1001.6" r="3.8"/><circle cx="997.9" cy="1015.7" r="3.8"/><circle cx="993.0" cy="1015.2" r="3.8"/><circle cx="965.7" cy="1011.3" r="3.8"/><circle cx="962.1" cy="1026.3" r="3.8"/><circle cx="1001.7" cy="1040.4" r="3.8"/><circle cx="957.5" cy="1037.8" r="3.8"/><circle cx="1005.9" cy="1050.5" r="3.8"/><circle cx="955.0" cy="1059.0" r="3.8"/><circle cx="948.3" cy="1062.5" r="3.8"/><circle cx="1008.6" cy="1085.1" r="3.8"/><circle cx="1017.3" cy="1093.4" r="3.8"/><circle cx="948.3" cy="1086.4" r="3.8"/><circle cx="942.4" cy="1100.5" r="3.8"/><circle cx="936.0" cy="1107.6" r="3.8"/><circle cx="1024.7" cy="1114.6" r="3.8"/><circle cx="928.5" cy="1125.2" r="3.8"/><circle cx="934.2" cy="1124.3" r="3.8"/><circle cx="1038.4" cy="1127.0" r="3.8"/><circle cx="1031.0" cy="1127.9" r="3.8"/><circle cx="925.3" cy="1151.8" r="3.8"/><circle cx="916.5" cy="1155.3" r="3.8"/><circle cx="921.8" cy="1161.5" r="3.8"/><circle cx="907.7" cy="1166.8" r="3.8"/><circle cx="912.1" cy="1162.4" r="3.8"/><circle cx="892.7" cy="1180.1" r="3.8"/><circle cx="889.1" cy="1181.5" r="3.8"/><circle cx="897.1" cy="1179.2" r="3.8"/><circle cx="905.6" cy="1188.0" r="3.8"/><circle cx="883.0" cy="1188.9" r="3.8"/><circle cx="1028.7" cy="1135.9" r="3.8"/><circle cx="1049.9" cy="1149.7" r="3.8"/><circle cx="1054.3" cy="1153.6" r="3.8"/><circle cx="1041.0" cy="1156.2" r="3.8"/><circle cx="1044.6" cy="1161.5" r="3.8"/><circle cx="1058.0" cy="1174.8" r="3.8"/><circle cx="1072.0" cy="1190.7" r="3.8"/><circle cx="1093.5" cy="1205.1" r="3.8"/><circle cx="1102.0" cy="1220.7" r="3.8"/><circle cx="1112.6" cy="1226.0" r="3.8"/><circle cx="1096.7" cy="1231.3" r="3.8"/><circle cx="1104.6" cy="1234.8" r="3.8"/><circle cx="1117.0" cy="1236.6" r="3.8"/><circle cx="1198.0" cy="992.4" r="3.8"/><circle cx="1202.4" cy="992.4" r="3.8"/><circle cx="1188.8" cy="1011.3" r="3.8"/><circle cx="1185.8" cy="1016.6" r="3.8"/><circle cx="1194.5" cy="1019.3" r="3.8"/><circle cx="1206.4" cy="1015.7" r="3.8"/><circle cx="1214.8" cy="1022.8" r="3.8"/><circle cx="1181.9" cy="1036.9" r="3.8"/><circle cx="1177.5" cy="1040.4" r="3.8"/><circle cx="1227.1" cy="1041.0" r="3.8"/><circle cx="1173.8" cy="1065.2" r="3.8"/><circle cx="1230.3" cy="1066.1" r="3.8"/><circle cx="1165.5" cy="1075.8" r="3.8"/><circle cx="1170.1" cy="1076.7" r="3.8"/><circle cx="1234.0" cy="1080.2" r="3.8"/><circle cx="1249.8" cy="1083.7" r="3.8"/><circle cx="1161.6" cy="1091.7" r="3.8"/><circle cx="1237.8" cy="1091.7" r="3.8"/><circle cx="1241.3" cy="1094.0" r="3.8"/><circle cx="1269.9" cy="1098.7" r="3.8"/><circle cx="1253.7" cy="1105.8" r="3.8"/><circle cx="1259.9" cy="1103.2" r="3.8"/><circle cx="1262.5" cy="1109.3" r="3.8"/><circle cx="1157.8" cy="1119.9" r="3.8"/><circle cx="1281.9" cy="1126.1" r="3.8"/><circle cx="1273.4" cy="1125.2" r="3.8"/><circle cx="1154.2" cy="1133.2" r="3.8"/><circle cx="1149.7" cy="1147.4" r="3.8"/><circle cx="1137.1" cy="1162.4" r="3.8"/><circle cx="1145.8" cy="1159.7" r="3.8"/><circle cx="1142.2" cy="1173.0" r="3.8"/><circle cx="1128.1" cy="1200.4" r="3.8"/><circle cx="1120.6" cy="1218.9" r="3.8"/><circle cx="1275.7" cy="1132.4" r="3.8"/><circle cx="1289.9" cy="1137.7" r="3.8"/><circle cx="1285.5" cy="1137.7" r="3.8"/><circle cx="1294.4" cy="1158.0" r="3.8"/><circle cx="1303.8" cy="1183.6" r="3.8"/><circle cx="1307.3" cy="1195.1" r="3.8"/><circle cx="1309.9" cy="1211.8" r="3.8"/><circle cx="1314.1" cy="1227.7" r="3.8"/><circle cx="1317.9" cy="1236.6" r="3.8"/><circle cx="1322.8" cy="1245.4" r="3.8"/><circle cx="1327.0" cy="1250.7" r="3.8"/><circle cx="1340.2" cy="1236.6" r="3.8"/><circle cx="1334.0" cy="1264.0" r="3.8"/></g>
<path d="M148.6 1182.0 L150.6 1182.7 L152.6 1184.7 L154.6 1186.8 L156.6 1189.2 L158.6 1192.4 L160.6 1195.9 L162.6 1199.6 L164.6 1204.0 L166.6 1208.9 L168.6 1214.3 L170.6 1219.7 L172.6 1225.1 L174.6 1231.4 L176.6 1233.2 L178.6 1234.7 L180.6 1235.9 L182.6 1237.1 L184.6 1238.1 L186.6 1238.6 L188.6 1238.7 L190.6 1238.6 L192.6 1238.1 L194.6 1237.3 L196.6 1235.5 L198.6 1230.7 L200.6 1225.6 L202.6 1220.5 L204.6 1215.9 L206.6 1211.1 L208.6 1205.8 L210.6 1200.2 L212.6 1194.6 L214.6 1188.8 L216.6 1183.0 L218.6 1177.3 L220.6 1171.6 L222.6 1166.3 L224.6 1161.0 L226.6 1155.3 L228.6 1146.1 L230.6 1137.4 L232.6 1129.1 L234.6 1120.5 L236.6 1111.7 L238.6 1103.8 L240.6 1095.9 L242.6 1089.5 L244.6 1082.6 L246.6 1076.2 L248.6 1068.7 L250.6 1060.9 L252.6 1053.6 L254.6 1046.9 L256.6 1040.6 L258.6 1035.0 L260.6 1032.2 L262.6 1029.5 L264.6 1025.8 L266.6 1021.4 L268.6 1018.5 L270.6 1016.2 L272.6 1014.4 L274.6 1013.6 L276.6 1013.4 L278.6 1015.2 L280.6 1017.6 L282.6 1019.6 L284.6 1021.3 L286.6 1023.0 L288.6 1024.3 L290.6 1025.4 L292.6 1028.6 L294.6 1033.2 L296.6 1038.4 L298.6 1043.8 L300.6 1047.9 L302.6 1052.0 L304.6 1055.3 L306.6 1057.6 L308.6 1059.5 L310.6 1063.7 L312.6 1068.2 L314.6 1072.6 L316.6 1076.8 L318.6 1079.0 L320.6 1081.3 L322.6 1083.5 L324.6 1086.1 L326.6 1088.7 L328.6 1091.3 L330.6 1092.3 L332.6 1093.4 L334.6 1095.1 L336.6 1097.1 L338.6 1098.9 L340.6 1097.9 L342.6 1096.7 L344.6 1098.3 L346.6 1100.5 L348.6 1104.9 L350.6 1111.0 L352.6 1117.0 L354.6 1122.3 L356.6 1126.1 L358.6 1126.6 L360.6 1127.3 L362.6 1132.3 L364.6 1140.0 L366.6 1147.1 L368.6 1154.0 L370.6 1160.5 L372.6 1167.0 L374.6 1173.9 L376.6 1181.1 L378.6 1188.1 L380.6 1194.8 L382.6 1201.5 L384.6 1208.8 L386.6 1216.2 L388.6 1223.3 L390.6 1230.2 L392.6 1236.8 L394.6 1242.6 L396.6 1248.2 L398.6 1253.5 L400.6 1258.3 L402.6 1261.8 L404.6 1264.3 L406.6 1264.9 L408.6 1264.5 L410.6 1262.5 L412.6 1260.3 L414.6 1259.5 L416.6 1257.4 L418.6 1250.9 L420.6 1244.2 L422.6 1237.4 L424.6 1230.4 L426.6 1224.2 L428.6 1217.7 L430.6 1209.5 L432.6 1200.1 L434.6 1190.6 L436.6 1181.1 L438.6 1171.7 L440.6 1163.2 L442.6 1155.1 L444.6 1147.0 L446.6 1139.5 L448.6 1132.5 L450.6 1125.7 L452.6 1119.0 L454.6 1112.7 L456.6 1107.7 L458.6 1103.2 L460.6 1100.8 L462.6 1098.6 L464.6 1096.2 L466.6 1093.9 L468.6 1091.5 L470.6 1088.0 L472.6 1083.4 L474.6 1078.9 L476.6 1075.0 L478.6 1071.2 L480.6 1068.0 L482.6 1065.1 L484.6 1063.0 L486.6 1061.4 L488.6 1059.9 L490.6 1058.4 L492.6 1056.8 L494.6 1055.2 L496.6 1053.5 L498.6 1052.4 L500.6 1051.4 L502.6 1050.4 L504.6 1049.5 L506.6 1048.8 L508.6 1048.3 L510.6 1047.3 L512.6 1045.7 L514.6 1044.2 L516.6 1042.7 L518.6 1040.8 L520.6 1040.3 L522.6 1040.0 L524.6 1039.2 L526.6 1038.4 L528.6 1037.5 L530.6 1036.4 L532.6 1035.1 L534.6 1033.5 L536.6 1032.1 L538.6 1032.9 L540.6 1034.7 L542.6 1036.5 L544.6 1038.1 L546.6 1039.5 L548.6 1041.2 L550.6 1043.3 L552.6 1046.8 L554.6 1052.1 L556.6 1057.4 L558.6 1062.6 L560.6 1067.1 L562.6 1071.3 L564.6 1075.5 L566.6 1079.8 L568.6 1084.0 L570.6 1088.0 L572.6 1092.1 L574.6 1098.4 L576.6 1104.9 L578.6 1109.3 L580.6 1113.9 L582.6 1120.5 L584.6 1127.8 L586.6 1135.0 L588.6 1142.1 L590.6 1149.2 L592.6 1156.2 L594.6 1163.3 L596.6 1170.5 L598.6 1177.8 L600.6 1185.0 L602.6 1192.1 L604.6 1198.8 L606.6 1206.4 L608.6 1213.7 L610.6 1222.5 L612.6 1226.2 L614.6 1231.3 L616.6 1237.4 L618.6 1243.0 L620.6 1247.4 L622.6 1251.1 L624.6 1254.3 L626.6 1256.8 L628.6 1258.4 L630.6 1257.8 L632.6 1253.7 L634.6 1248.5 L636.6 1242.5 L638.6 1236.5 L640.6 1230.8 L642.6 1225.2 L644.6 1219.6 L646.6 1213.7 L648.6 1207.4 L650.6 1200.7 L652.6 1193.8 L654.6 1186.9 L656.6 1180.4 L658.6 1174.3 L660.6 1168.7 L662.6 1163.9 L664.6 1159.4 L666.6 1155.4 L668.6 1151.9 L670.6 1148.8 L672.6 1146.6 L674.6 1144.6 L676.6 1141.8 L678.6 1138.3 L680.6 1134.1 L682.6 1131.9 L684.6 1130.5 L686.6 1129.3 L688.6 1127.3 L690.6 1125.3 L692.6 1122.6 L694.6 1120.1 L696.6 1117.2 L698.6 1114.6 L700.6 1112.3 L702.6 1110.3 L704.6 1112.0 L706.6 1111.8 L708.6 1108.8 L710.6 1104.1 L712.6 1097.7 L714.6 1091.6 L716.6 1086.3 L718.6 1081.2 L720.6 1076.2 L722.6 1071.3 L724.6 1066.2 L726.6 1061.1 L728.6 1055.9 L730.6 1050.5 L732.6 1045.2 L734.6 1040.1 L736.6 1034.9 L738.6 1029.6 L740.6 1024.1 L742.6 1018.8 L744.6 1014.1 L746.6 1009.7 L748.6 1005.9 L750.6 1002.6 L752.6 999.8 L754.6 997.6 L756.6 995.6 L758.6 996.0 L760.6 996.6 L762.6 994.6 L764.6 994.6 L766.6 999.5 L768.6 1005.4 L770.6 1011.4 L772.6 1017.7 L774.6 1024.2 L776.6 1030.8 L778.6 1037.9 L780.6 1044.8 L782.6 1051.7 L784.6 1058.5 L786.6 1066.1 L788.6 1073.7 L790.6 1079.9 L792.6 1086.1 L794.6 1093.2 L796.6 1100.4 L798.6 1107.6 L800.6 1114.8 L802.6 1122.0 L804.6 1129.2 L806.6 1136.4 L808.6 1143.5 L810.6 1150.1 L812.6 1156.4 L814.6 1162.1 L816.6 1167.7 L818.6 1173.3 L820.6 1178.9 L822.6 1184.5 L824.6 1190.1 L826.6 1195.7 L828.6 1201.0 L830.6 1204.3 L832.6 1206.8 L834.6 1207.8 L836.6 1208.7 L838.6 1210.9 L840.6 1213.6 L842.6 1217.2 L844.6 1221.5 L846.6 1224.0 L848.6 1224.5 L850.6 1223.2 L852.6 1221.8 L854.6 1220.1 L856.6 1218.4 L858.6 1216.6 L860.6 1214.8 L862.6 1213.1 L864.6 1211.7 L866.6 1210.4 L868.6 1209.2 L870.6 1207.2 L872.6 1204.9 L874.6 1202.3 L876.6 1199.8 L878.6 1197.3 L880.6 1194.6 L882.6 1191.6 L884.6 1188.9 L886.6 1187.5 L888.6 1186.0 L890.6 1184.8 L892.6 1183.7 L894.6 1182.9 L896.6 1182.5 L898.6 1182.1 L900.6 1180.7 L902.6 1178.2 L904.6 1174.4 L906.6 1171.0 L908.6 1168.2 L910.6 1165.7 L912.6 1163.4 L914.6 1161.6 L916.6 1160.2 L918.6 1159.0 L920.6 1157.7 L922.6 1154.2 L924.6 1149.2 L926.6 1142.9 L928.6 1136.3 L930.6 1129.8 L932.6 1123.5 L934.6 1117.2 L936.6 1110.8 L938.6 1104.3 L940.6 1097.4 L942.6 1090.5 L944.6 1083.5 L946.6 1076.4 L948.6 1069.3 L950.6 1062.2 L952.6 1054.9 L954.6 1047.6 L956.6 1040.1 L958.6 1033.8 L960.6 1027.6 L962.6 1019.8 L964.6 1012.0 L966.6 1004.7 L968.6 997.8 L970.6 991.5 L972.6 989.1 L974.6 986.3 L976.6 983.8 L978.6 983.7 L980.6 985.6 L982.6 988.4 L984.6 991.7 L986.6 995.4 L988.6 999.3 L990.6 1003.6 L992.6 1008.4 L994.6 1013.7 L996.6 1020.2 L998.6 1027.6 L1000.6 1036.1 L1002.6 1045.2 L1004.6 1054.2 L1006.6 1062.0 L1008.6 1069.0 L1010.6 1075.2 L1012.6 1081.1 L1014.6 1087.4 L1016.6 1094.3 L1018.6 1101.5 L1020.6 1108.8 L1022.6 1116.3 L1024.6 1123.7 L1026.6 1127.6 L1028.6 1131.1 L1030.6 1133.7 L1032.6 1135.9 L1034.6 1139.6 L1036.6 1145.1 L1038.6 1150.5 L1040.6 1154.1 L1042.6 1155.7 L1044.6 1156.3 L1046.6 1156.0 L1048.6 1155.6 L1050.6 1157.6 L1052.6 1161.4 L1054.6 1165.3 L1056.6 1168.9 L1058.6 1171.5 L1060.6 1174.4 L1062.6 1177.9 L1064.6 1181.3 L1066.6 1183.8 L1068.6 1186.5 L1070.6 1189.0 L1072.6 1191.5 L1074.6 1194.0 L1076.6 1196.6 L1078.6 1199.2 L1080.6 1201.2 L1082.6 1203.1 L1084.6 1204.9 L1086.6 1206.5 L1088.6 1207.7 L1090.6 1211.0 L1092.6 1215.7 L1094.6 1219.5 L1096.6 1222.2 L1098.6 1224.9 L1100.6 1228.0 L1102.6 1229.6 L1104.6 1230.9 L1106.6 1231.7 L1108.6 1232.1 L1110.6 1232.3 L1112.6 1232.5 L1114.6 1232.6 L1116.6 1231.3 L1118.6 1228.1 L1120.6 1224.0 L1122.6 1219.7 L1124.6 1215.7 L1126.6 1211.4 L1128.6 1205.1 L1130.6 1198.4 L1132.6 1191.5 L1134.6 1187.8 L1136.6 1184.5 L1138.6 1179.9 L1140.6 1176.0 L1142.6 1168.5 L1144.6 1161.5 L1146.6 1154.4 L1148.6 1147.1 L1150.6 1140.2 L1152.6 1133.9 L1154.6 1126.7 L1156.6 1118.6 L1158.6 1109.9 L1160.6 1102.2 L1162.6 1096.2 L1164.6 1090.6 L1166.6 1085.3 L1168.6 1079.5 L1170.6 1072.7 L1172.6 1065.6 L1174.6 1058.2 L1176.6 1050.4 L1178.6 1042.2 L1180.6 1034.4 L1182.6 1027.8 L1184.6 1022.7 L1186.6 1019.5 L1188.6 1016.0 L1190.6 1011.6 L1192.6 1007.1 L1194.6 1003.4 L1196.6 1000.7 L1198.6 1003.1 L1200.6 1005.4 L1202.6 1008.7 L1204.6 1012.6 L1206.6 1016.0 L1208.6 1019.3 L1210.6 1022.5 L1212.6 1025.5 L1214.6 1028.6 L1216.6 1032.5 L1218.6 1037.0 L1220.6 1042.4 L1222.6 1048.1 L1224.6 1053.6 L1226.6 1058.8 L1228.6 1064.8 L1230.6 1070.9 L1232.6 1075.4 L1234.6 1080.0 L1236.6 1081.9 L1238.6 1084.5 L1240.6 1085.3 L1242.6 1086.9 L1244.6 1088.3 L1246.6 1091.3 L1248.6 1096.3 L1250.6 1100.2 L1252.6 1103.6 L1254.6 1106.0 L1256.6 1107.4 L1258.6 1108.5 L1260.6 1109.8 L1262.6 1111.2 L1264.6 1112.5 L1266.6 1113.3 L1268.6 1117.8 L1270.6 1123.0 L1272.6 1127.3 L1274.6 1128.9 L1276.6 1130.6 L1278.6 1132.5 L1280.6 1134.5 L1282.6 1136.8 L1284.6 1139.9 L1286.6 1142.8 L1288.6 1149.9 L1290.6 1157.9 L1292.6 1164.9 L1294.6 1171.4 L1296.6 1177.8 L1298.6 1184.2 L1300.6 1190.6 L1302.6 1197.0 L1304.6 1203.4 L1306.6 1209.8 L1308.6 1216.4 L1310.6 1223.1 L1312.6 1229.7 L1314.6 1236.0 L1316.6 1241.8 L1318.6 1247.2 L1320.6 1252.0 L1322.6 1256.3 L1324.6 1260.1 L1326.6 1262.4 L1328.6 1264.1 L1330.6 1265.3 L1332.6 1263.3 L1334.6 1260.5 L1336.6 1257.3 L1338.6 1253.6 L1342.5 1249.7" fill="none" stroke="#1f77b4" stroke-width="4.8" stroke-linejoin="round" stroke-linecap="square"/>
<path d="M148.6 1186.8 L150.6 1187.4 L152.6 1189.2 L154.6 1191.1 L156.6 1193.3 L158.6 1196.6 L160.6 1200.1 L162.6 1204.1 L164.6 1209.1 L166.6 1214.6 L168.6 1220.9 L170.6 1226.9 L172.6 1232.2 L174.6 1237.6 L176.6 1238.2 L178.6 1238.4 L180.6 1238.6 L182.6 1238.8 L184.6 1239.0 L186.6 1238.8 L188.6 1238.3 L190.6 1237.6 L192.6 1236.3 L194.6 1234.4 L196.6 1231.5 L198.6 1225.5 L200.6 1219.5 L202.6 1213.8 L204.6 1209.1 L206.6 1204.3 L208.6 1199.2 L210.6 1193.8 L212.6 1188.2 L214.6 1182.3 L216.6 1176.3 L218.6 1170.3 L220.6 1164.3 L222.6 1158.7 L224.6 1153.1 L226.6 1147.0 L228.6 1137.2 L230.6 1127.7 L232.6 1118.7 L234.6 1109.7 L236.6 1101.4 L238.6 1094.2 L240.6 1087.1 L242.6 1080.7 L244.6 1074.4 L246.6 1068.4 L248.6 1062.3 L250.6 1055.6 L252.6 1049.0 L254.6 1042.4 L256.6 1036.0 L258.6 1030.6 L260.6 1028.1 L262.6 1025.9 L264.6 1022.6 L266.6 1018.9 L268.6 1016.8 L270.6 1015.5 L272.6 1015.0 L274.6 1015.4 L276.6 1016.3 L278.6 1018.8 L280.6 1021.6 L282.6 1023.6 L284.6 1024.7 L286.6 1025.5 L288.6 1025.9 L290.6 1026.7 L292.6 1030.0 L294.6 1034.9 L296.6 1040.5 L298.6 1046.3 L300.6 1050.3 L302.6 1053.7 L304.6 1056.2 L306.6 1057.8 L308.6 1059.4 L310.6 1063.8 L312.6 1068.6 L314.6 1073.4 L316.6 1078.0 L318.6 1080.5 L320.6 1083.2 L322.6 1085.8 L324.6 1088.8 L326.6 1092.0 L328.6 1095.3 L330.6 1096.9 L332.6 1098.0 L334.6 1099.1 L336.6 1100.4 L338.6 1101.9 L340.6 1100.8 L342.6 1099.5 L344.6 1100.8 L346.6 1102.6 L348.6 1106.5 L350.6 1112.2 L352.6 1118.1 L354.6 1123.8 L356.6 1128.2 L358.6 1129.4 L360.6 1130.7 L362.6 1136.1 L364.6 1143.9 L366.6 1151.2 L368.6 1158.3 L370.6 1165.0 L372.6 1171.7 L374.6 1178.9 L376.6 1186.1 L378.6 1193.2 L380.6 1199.9 L382.6 1206.7 L384.6 1213.9 L386.6 1221.2 L388.6 1228.1 L390.6 1234.8 L392.6 1241.2 L394.6 1246.6 L396.6 1251.9 L398.6 1256.9 L400.6 1261.5 L402.6 1264.6 L404.6 1266.7 L406.6 1266.9 L408.6 1265.9 L410.6 1263.2 L412.6 1260.3 L414.6 1258.9 L416.6 1256.1 L418.6 1248.8 L420.6 1241.1 L422.6 1233.5 L424.6 1226.0 L426.6 1219.8 L428.6 1213.9 L430.6 1206.7 L432.6 1198.8 L434.6 1190.9 L436.6 1182.9 L438.6 1175.0 L440.6 1167.8 L442.6 1160.4 L444.6 1152.5 L446.6 1144.5 L448.6 1136.5 L450.6 1128.5 L452.6 1120.5 L454.6 1112.9 L456.6 1106.8 L458.6 1101.0 L460.6 1097.5 L462.6 1094.7 L464.6 1092.3 L466.6 1090.4 L468.6 1088.5 L470.6 1085.2 L472.6 1080.8 L474.6 1076.5 L476.6 1073.0 L478.6 1069.7 L480.6 1066.9 L482.6 1064.2 L484.6 1061.8 L486.6 1059.8 L488.6 1057.7 L490.6 1055.8 L492.6 1054.0 L494.6 1052.3 L496.6 1050.7 L498.6 1049.6 L500.6 1048.5 L502.6 1047.5 L504.6 1046.6 L506.6 1045.8 L508.6 1045.0 L510.6 1043.7 L512.6 1041.6 L514.6 1039.7 L516.6 1037.7 L518.6 1035.7 L520.6 1035.5 L522.6 1035.5 L524.6 1035.1 L526.6 1034.6 L528.6 1034.1 L530.6 1033.5 L532.6 1032.8 L534.6 1032.0 L536.6 1031.3 L538.6 1032.7 L540.6 1034.9 L542.6 1037.0 L544.6 1039.0 L546.6 1041.1 L548.6 1044.0 L550.6 1047.2 L552.6 1051.9 L554.6 1058.2 L556.6 1064.1 L558.6 1069.7 L560.6 1074.4 L562.6 1078.5 L564.6 1082.5 L566.6 1086.5 L568.6 1090.5 L570.6 1094.5 L572.6 1098.8 L574.6 1105.6 L576.6 1112.5 L578.6 1116.8 L580.6 1121.2 L582.6 1127.4 L584.6 1134.6 L586.6 1141.8 L588.6 1149.0 L590.6 1156.2 L592.6 1163.4 L594.6 1170.6 L596.6 1177.8 L598.6 1184.9 L600.6 1192.0 L602.6 1199.2 L604.6 1206.4 L606.6 1214.5 L608.6 1222.2 L610.6 1230.7 L612.6 1233.7 L614.6 1237.8 L616.6 1243.2 L618.6 1248.3 L620.6 1252.3 L622.6 1255.7 L624.6 1258.4 L626.6 1260.2 L628.6 1261.4 L630.6 1260.6 L632.6 1256.4 L634.6 1251.2 L636.6 1244.9 L638.6 1238.5 L640.6 1232.1 L642.6 1226.0 L644.6 1220.0 L646.6 1214.0 L648.6 1208.0 L650.6 1201.9 L652.6 1196.0 L654.6 1190.0 L656.6 1184.3 L658.6 1178.9 L660.6 1173.6 L662.6 1168.8 L664.6 1164.2 L666.6 1159.9 L668.6 1155.9 L670.6 1152.2 L672.6 1149.4 L674.6 1146.7 L676.6 1143.1 L678.6 1138.8 L680.6 1133.9 L682.6 1130.8 L684.6 1128.7 L686.6 1126.5 L688.6 1123.8 L690.6 1121.2 L692.6 1118.1 L694.6 1115.4 L696.6 1112.2 L698.6 1109.4 L700.6 1107.3 L702.6 1106.2 L704.6 1109.3 L706.6 1110.7 L708.6 1109.0 L710.6 1105.3 L712.6 1099.3 L714.6 1093.3 L716.6 1087.9 L718.6 1082.5 L720.6 1077.2 L722.6 1071.9 L724.6 1066.5 L726.6 1061.2 L728.6 1055.9 L730.6 1050.5 L732.6 1045.3 L734.6 1040.4 L736.6 1035.7 L738.6 1031.0 L740.6 1026.4 L742.6 1021.8 L744.6 1017.7 L746.6 1013.7 L748.6 1010.1 L750.6 1006.7 L752.6 1003.6 L754.6 1000.9 L756.6 998.5 L758.6 998.7 L760.6 999.2 L762.6 997.1 L764.6 996.8 L766.6 1001.3 L768.6 1006.6 L770.6 1012.2 L772.6 1018.0 L774.6 1024.3 L776.6 1030.9 L778.6 1037.9 L780.6 1044.8 L782.6 1051.7 L784.6 1058.5 L786.6 1066.1 L788.6 1073.7 L790.6 1079.9 L792.6 1086.1 L794.6 1093.2 L796.6 1100.4 L798.6 1107.6 L800.6 1114.8 L802.6 1122.0 L804.6 1129.2 L806.6 1136.4 L808.6 1143.5 L810.6 1150.1 L812.6 1156.4 L814.6 1162.1 L816.6 1167.7 L818.6 1173.3 L820.6 1178.9 L822.6 1184.5 L824.6 1190.1 L826.6 1195.7 L828.6 1201.1 L830.6 1204.6 L832.6 1207.7 L834.6 1209.5 L836.6 1211.3 L838.6 1214.4 L840.6 1217.8 L842.6 1221.9 L844.6 1226.4 L846.6 1228.9 L848.6 1229.3 L850.6 1227.8 L852.6 1226.2 L854.6 1224.3 L856.6 1222.4 L858.6 1220.4 L860.6 1218.4 L862.6 1216.4 L864.6 1214.8 L866.6 1213.4 L868.6 1212.0 L870.6 1209.8 L872.6 1207.3 L874.6 1204.5 L876.6 1201.8 L878.6 1198.9 L880.6 1195.7 L882.6 1192.3 L884.6 1189.2 L886.6 1187.5 L888.6 1185.9 L890.6 1184.7 L892.6 1183.7 L894.6 1182.9 L896.6 1182.5 L898.6 1182.1 L900.6 1180.7 L902.6 1178.2 L904.6 1174.4 L906.6 1171.0 L908.6 1168.2 L910.6 1165.5 L912.6 1162.9 L914.6 1160.2 L916.6 1157.5 L918.6 1154.8 L920.6 1151.7 L922.6 1146.7 L924.6 1140.7 L926.6 1133.7 L928.6 1126.7 L930.6 1120.0 L932.6 1113.6 L934.6 1107.2 L936.6 1100.7 L938.6 1094.1 L940.6 1087.1 L942.6 1080.1 L944.6 1073.1 L946.6 1066.1 L948.6 1059.1 L950.6 1052.1 L952.6 1045.1 L954.6 1038.1 L956.6 1031.1 L958.6 1025.5 L960.6 1020.2 L962.6 1013.6 L964.6 1007.1 L966.6 1001.4 L968.6 995.8 L970.6 990.7 L972.6 989.2 L974.6 987.4 L976.6 986.1 L978.6 987.3 L980.6 990.6 L982.6 994.5 L984.6 998.4 L986.6 1002.4 L988.6 1006.4 L990.6 1010.5 L992.6 1015.0 L994.6 1020.0 L996.6 1025.8 L998.6 1032.3 L1000.6 1039.8 L1002.6 1047.8 L1004.6 1055.8 L1006.6 1062.8 L1008.6 1069.3 L1010.6 1075.2 L1012.6 1080.9 L1014.6 1087.0 L1016.6 1093.3 L1018.6 1099.7 L1020.6 1106.2 L1022.6 1112.9 L1024.6 1119.4 L1026.6 1122.3 L1028.6 1124.7 L1030.6 1126.2 L1032.6 1127.8 L1034.6 1131.5 L1036.6 1137.5 L1038.6 1143.5 L1040.6 1147.9 L1042.6 1150.5 L1044.6 1152.5 L1046.6 1154.0 L1048.6 1155.5 L1050.6 1158.9 L1052.6 1163.7 L1054.6 1168.4 L1056.6 1172.6 L1058.6 1176.2 L1060.6 1180.1 L1062.6 1184.5 L1064.6 1188.9 L1066.6 1192.2 L1068.6 1195.5 L1070.6 1198.3 L1072.6 1201.0 L1074.6 1203.6 L1076.6 1205.9 L1078.6 1208.1 L1080.6 1209.7 L1082.6 1210.9 L1084.6 1212.1 L1086.6 1213.2 L1088.6 1214.1 L1090.6 1217.4 L1092.6 1222.1 L1094.6 1225.7 L1096.6 1227.9 L1098.6 1230.1 L1100.6 1232.4 L1102.6 1233.3 L1104.6 1233.8 L1106.6 1233.8 L1108.6 1233.5 L1110.6 1233.2 L1112.6 1232.8 L1114.6 1232.2 L1116.6 1229.8 L1118.6 1225.2 L1120.6 1219.7 L1122.6 1214.2 L1124.6 1209.3 L1126.6 1204.3 L1128.6 1197.5 L1130.6 1190.5 L1132.6 1183.9 L1134.6 1181.0 L1136.6 1179.2 L1138.6 1176.1 L1140.6 1173.3 L1142.6 1166.1 L1144.6 1159.0 L1146.6 1151.9 L1148.6 1144.8 L1150.6 1138.2 L1152.6 1131.8 L1154.6 1124.0 L1156.6 1115.0 L1158.6 1105.1 L1160.6 1096.6 L1162.6 1089.9 L1164.6 1083.8 L1166.6 1078.1 L1168.6 1071.9 L1170.6 1064.8 L1172.6 1057.6 L1174.6 1050.4 L1176.6 1043.2 L1178.6 1036.1 L1180.6 1029.5 L1182.6 1023.8 L1184.6 1019.2 L1186.6 1015.8 L1188.6 1011.9 L1190.6 1007.3 L1192.6 1002.9 L1194.6 999.4 L1196.6 996.8 L1198.6 999.2 L1200.6 1001.5 L1202.6 1004.9 L1204.6 1008.8 L1206.6 1012.0 L1208.6 1014.7 L1210.6 1017.4 L1212.6 1020.1 L1214.6 1022.9 L1216.6 1026.4 L1218.6 1030.6 L1220.6 1035.7 L1222.6 1041.3 L1224.6 1046.9 L1226.6 1052.5 L1228.6 1059.4 L1230.6 1066.5 L1232.6 1072.3 L1234.6 1078.1 L1236.6 1081.0 L1238.6 1084.2 L1240.6 1085.1 L1242.6 1086.4 L1244.6 1087.1 L1246.6 1089.2 L1248.6 1093.1 L1250.6 1096.1 L1252.6 1098.9 L1254.6 1100.9 L1256.6 1102.3 L1258.6 1103.5 L1260.6 1104.8 L1262.6 1106.4 L1264.6 1108.0 L1266.6 1109.5 L1268.6 1114.8 L1270.6 1121.0 L1272.6 1126.2 L1274.6 1128.5 L1276.6 1130.5 L1278.6 1132.5 L1280.6 1134.5 L1282.6 1136.8 L1284.6 1139.9 L1286.6 1142.8 L1288.6 1149.9 L1290.6 1157.9 L1292.6 1164.9 L1294.6 1171.4 L1296.6 1177.8 L1298.6 1184.2 L1300.6 1190.6 L1302.6 1197.0 L1304.6 1203.4 L1306.6 1209.8 L1308.6 1216.2 L1310.6 1222.5 L1312.6 1228.5 L1314.6 1234.0 L1316.6 1239.1 L1318.6 1243.8 L1320.6 1248.3 L1322.6 1252.3 L1324.6 1256.1 L1326.6 1258.4 L1328.6 1260.1 L1330.6 1261.3 L1332.6 1259.2 L1334.6 1256.5 L1336.6 1253.4 L1338.6 1250.1 L1342.5 1246.9" fill="none" stroke="#ff7f0e" stroke-width="4.8" stroke-linejoin="round" stroke-linecap="square"/>
</g>
<rect x="148.6" y="235.8" width="1193.9" height="501.8" fill="none" stroke="#000" stroke-width="2.7"/>
<g stroke="#000" stroke-width="2.6"><line x1="148.6" y1="737.6" x2="148.6" y2="749.0"/><line x1="348.9" y1="737.6" x2="348.9" y2="749.0"/><line x1="549.2" y1="737.6" x2="549.2" y2="749.0"/><line x1="749.5" y1="737.6" x2="749.5" y2="749.0"/><line x1="949.8" y1="737.6" x2="949.8" y2="749.0"/><line x1="1150.1" y1="737.6" x2="1150.1" y2="749.0"/><line x1="137.2" y1="265.3" x2="148.6" y2="265.3"/><line x1="137.2" y1="339.4" x2="148.6" y2="339.4"/><line x1="137.2" y1="413.5" x2="148.6" y2="413.5"/><line x1="137.2" y1="487.6" x2="148.6" y2="487.6"/><line x1="137.2" y1="561.6" x2="148.6" y2="561.6"/><line x1="137.2" y1="635.7" x2="148.6" y2="635.7"/><line x1="137.2" y1="709.8" x2="148.6" y2="709.8"/></g>
<g font-family="'Liberation Serif','Times New Roman',Times,serif" fill="#000">
<text transform="translate(149.2 781.5) scale(0.9450 1)" text-anchor="middle" font-size="29.0">0.0</text>
<text transform="translate(349.5 781.5) scale(0.9450 1)" text-anchor="middle" font-size="29.0">0.5</text>
<text transform="translate(549.8 781.5) scale(0.9450 1)" text-anchor="middle" font-size="29.0">1.0</text>
<text transform="translate(750.1 781.5) scale(0.9450 1)" text-anchor="middle" font-size="29.0">1.5</text>
<text transform="translate(950.4 781.5) scale(0.9450 1)" text-anchor="middle" font-size="29.0">2.0</text>
<text transform="translate(1150.7 781.5) scale(0.9450 1)" text-anchor="middle" font-size="29.0">2.5</text>
<text transform="translate(124.6 275.6) scale(0.9450 1)" text-anchor="end" font-size="29.0">1.5</text>
<text transform="translate(124.6 349.7) scale(0.9450 1)" text-anchor="end" font-size="29.0">1.0</text>
<text transform="translate(124.6 423.8) scale(0.9450 1)" text-anchor="end" font-size="29.0">0.5</text>
<text transform="translate(124.6 497.9) scale(0.9450 1)" text-anchor="end" font-size="29.0">0.0</text>
<text transform="translate(124.6 571.9) scale(0.9450 1)" text-anchor="end" font-size="29.0">-0.5</text>
<text transform="translate(124.6 646.0) scale(0.9450 1)" text-anchor="end" font-size="29.0">-1.0</text>
<text transform="translate(124.6 720.1) scale(0.9450 1)" text-anchor="end" font-size="29.0">-1.5</text>
</g>
<rect x="148.6" y="873.6" width="1193.9" height="502.80000000000007" fill="none" stroke="#000" stroke-width="2.7"/>
<g stroke="#000" stroke-width="2.6"><line x1="148.6" y1="1376.4" x2="148.6" y2="1387.8000000000002"/><line x1="348.9" y1="1376.4" x2="348.9" y2="1387.8000000000002"/><line x1="549.2" y1="1376.4" x2="549.2" y2="1387.8000000000002"/><line x1="749.5" y1="1376.4" x2="749.5" y2="1387.8000000000002"/><line x1="949.8" y1="1376.4" x2="949.8" y2="1387.8000000000002"/><line x1="1150.1" y1="1376.4" x2="1150.1" y2="1387.8000000000002"/><line x1="137.2" y1="886.1" x2="148.6" y2="886.1"/><line x1="137.2" y1="1006.0" x2="148.6" y2="1006.0"/><line x1="137.2" y1="1125.9" x2="148.6" y2="1125.9"/><line x1="137.2" y1="1245.8" x2="148.6" y2="1245.8"/><line x1="137.2" y1="1365.7" x2="148.6" y2="1365.7"/></g>
<g font-family="'Liberation Serif','Times New Roman',Times,serif" fill="#000">
<text transform="translate(149.2 1420.5) scale(0.9450 1)" text-anchor="middle" font-size="29.0">0.0</text>
<text transform="translate(349.5 1420.5) scale(0.9450 1)" text-anchor="middle" font-size="29.0">0.5</text>
<text transform="translate(549.8 1420.5) scale(0.9450 1)" text-anchor="middle" font-size="29.0">1.0</text>
<text transform="translate(750.1 1420.5) scale(0.9450 1)" text-anchor="middle" font-size="29.0">1.5</text>
<text transform="translate(950.4 1420.5) scale(0.9450 1)" text-anchor="middle" font-size="29.0">2.0</text>
<text transform="translate(1150.7 1420.5) scale(0.9450 1)" text-anchor="middle" font-size="29.0">2.5</text>
<text transform="translate(124.6 895.7) scale(0.9450 1)" text-anchor="end" font-size="29.0">2</text>
<text transform="translate(124.6 1015.6) scale(0.9450 1)" text-anchor="end" font-size="29.0">1</text>
<text transform="translate(124.6 1135.5) scale(0.9450 1)" text-anchor="end" font-size="29.0">0</text>
<text transform="translate(124.6 1255.4) scale(0.9450 1)" text-anchor="end" font-size="29.0">-1</text>
<text transform="translate(124.6 1375.3) scale(0.9450 1)" text-anchor="end" font-size="29.0">-2</text>
</g>
<text x="745.3" y="214.6" text-anchor="middle" font-family="'DejaVu Sans','Liberation Sans',sans-serif" font-size="27.3" fill="#000"><tspan font-style="italic">q</tspan><tspan font-size="19.11" dy="5.6">0</tspan><tspan dy="-5.6">(</tspan><tspan font-style="italic">t</tspan><tspan>)</tspan></text>
<text x="745.3" y="853.2" text-anchor="middle" font-family="'DejaVu Sans','Liberation Sans',sans-serif" font-size="27.3" fill="#000"><tspan font-style="italic">q</tspan><tspan font-size="19.11" dy="5.6">0</tspan><tspan dy="-5.6">(</tspan><tspan font-style="italic">t</tspan><tspan>)</tspan></text>
<text x="720.7" y="847.8" font-family="'DejaVu Sans','Liberation Sans',sans-serif" font-size="21" fill="#000">¨</text>
<g font-family="'Liberation Serif','Times New Roman',Times,serif" fill="#000">
<text transform="translate(33.6 562.4) rotate(-90)" x="0" y="0" font-size="28.8" textLength="151.3" lengthAdjust="spacingAndGlyphs">displacement</text>
<text transform="translate(63.5 506.0) rotate(-90)" x="0" y="0" font-size="28.8" textLength="36.8" lengthAdjust="spacingAndGlyphs">[m]</text>
<text transform="translate(27.6 1194.6) rotate(-90)" x="0" y="0" font-size="28.8" textLength="139.0" lengthAdjust="spacingAndGlyphs">acceleration</text>
<text transform="translate(63.5 1163.7) rotate(-90)" font-size="28.8">[m/<tspan font-family="'DejaVu Sans','Liberation Sans',sans-serif" font-style="italic" font-size="27.3">s</tspan><tspan font-family="'DejaVu Sans','Liberation Sans',sans-serif" font-size="19.11" dy="-9.9">2</tspan><tspan dy="9.9">]</tspan></text>
<text x="704.8" y="1458.3" font-size="28.8" textLength="50.0" lengthAdjust="spacingAndGlyphs">time</text>
<text x="761.8" y="1458.3" font-size="28.8" textLength="24.8" lengthAdjust="spacingAndGlyphs">[s]</text>
</g>
<rect x="1218.9" y="4.5" width="275.2" height="163" rx="5.5" ry="5.5" fill="#fff" stroke="#d0d0d0" stroke-width="2.4"/>
<line x1="1229.6" y1="24.7" x2="1284.4" y2="24.7" stroke="#1f77b4" stroke-width="4.8" stroke-linecap="square"/>
<line x1="1229.6" y1="63.2" x2="1284.4" y2="63.2" stroke="#ff7f0e" stroke-width="4.8" stroke-linecap="square"/>
<rect x="1229.4" y="93.3" width="54.4" height="18.3" fill="#95cf95"/>
<circle cx="1256.6" cy="144" r="3.8" fill="#d92528"/>
<g font-family="'Liberation Serif','Times New Roman',Times,serif" fill="#000">
<text x="1305.9" y="34.0" font-size="28.8" textLength="149.0" lengthAdjust="spacingAndGlyphs">ground truth</text>
<text x="1306.2" y="72.4" font-size="28.8" textLength="175.8" lengthAdjust="spacingAndGlyphs">predicted mean</text>
<text x="1306.2" y="111.5" font-size="28.8" textLength="21.5" lengthAdjust="spacingAndGlyphs">2-</text>
<text x="1328.6" y="111.5" font-family="'DejaVu Sans','Liberation Sans',sans-serif" font-style="italic" font-size="27.3">σ</text>
<text x="1352.5" y="111.5" font-size="28.8" textLength="64.4" lengthAdjust="spacingAndGlyphs">range</text>
<text x="1306.2" y="151.0" font-size="28.8" textLength="157.7" lengthAdjust="spacingAndGlyphs">noisy samples</text>
</g>
</svg>
</body></html>
